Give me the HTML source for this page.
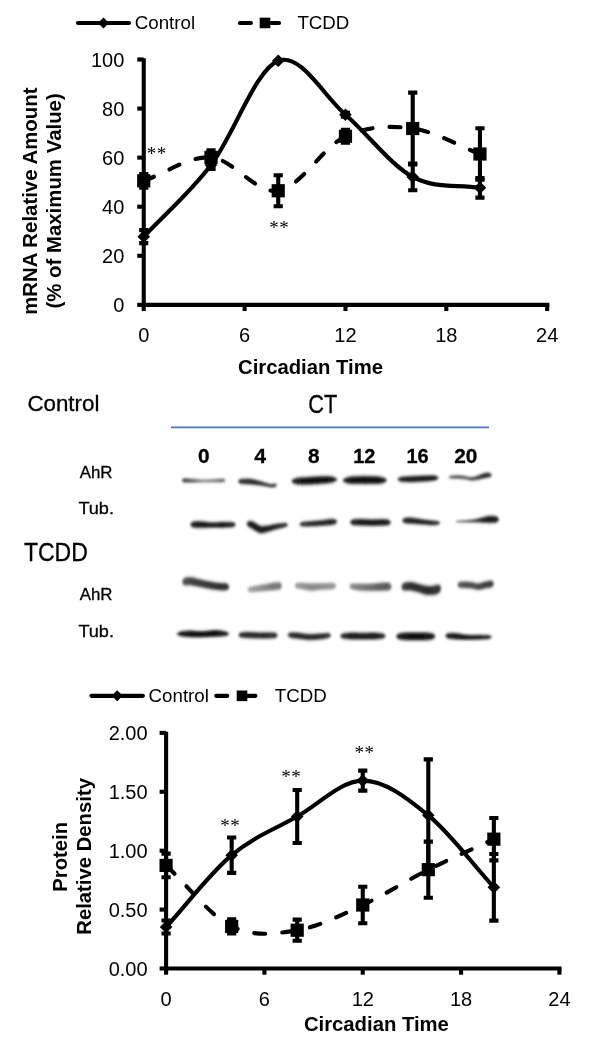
<!DOCTYPE html>
<html><head><meta charset="utf-8"><title>Figure</title>
<style>
html,body{margin:0;padding:0;background:#fff;}
svg{display:block;font-family:"Liberation Sans",sans-serif;fill:#000;}
.st{font-family:"Liberation Serif",serif;}
</style></head><body>
<svg width="592" height="1050" viewBox="0 0 592 1050">
<defs>
<filter id="bh" filterUnits="userSpaceOnUse" x="0" y="0" width="592" height="1050"><feGaussianBlur stdDeviation="1.5"/></filter>
<filter id="bc" filterUnits="userSpaceOnUse" x="0" y="0" width="592" height="1050"><feGaussianBlur stdDeviation="0.9"/></filter>
<linearGradient id="g0" gradientUnits="userSpaceOnUse" x1="182.2" y1="0" x2="225.1" y2="0"><stop offset="0.000" stop-color="rgb(70,70,70)"/><stop offset="0.182" stop-color="rgb(95,95,95)"/><stop offset="0.485" stop-color="rgb(140,140,140)"/><stop offset="0.741" stop-color="rgb(120,120,120)"/><stop offset="1.000" stop-color="rgb(85,85,85)"/></linearGradient>
<linearGradient id="g1" gradientUnits="userSpaceOnUse" x1="238.5" y1="0" x2="276.8" y2="0"><stop offset="0.000" stop-color="rgb(55,55,55)"/><stop offset="0.300" stop-color="rgb(40,40,40)"/><stop offset="0.561" stop-color="rgb(50,50,50)"/><stop offset="0.752" stop-color="rgb(60,60,60)"/><stop offset="0.875" stop-color="rgb(55,55,55)"/><stop offset="1.000" stop-color="rgb(60,60,60)"/></linearGradient>
<linearGradient id="g2" gradientUnits="userSpaceOnUse" x1="291.8" y1="0" x2="336.8" y2="0"><stop offset="0.000" stop-color="rgb(45,45,45)"/><stop offset="0.182" stop-color="rgb(18,18,18)"/><stop offset="0.493" stop-color="rgb(10,10,10)"/><stop offset="0.804" stop-color="rgb(16,16,16)"/><stop offset="1.000" stop-color="rgb(45,45,45)"/></linearGradient>
<linearGradient id="g3" gradientUnits="userSpaceOnUse" x1="343.2" y1="0" x2="386.4" y2="0"><stop offset="0.000" stop-color="rgb(45,45,45)"/><stop offset="0.204" stop-color="rgb(16,16,16)"/><stop offset="0.505" stop-color="rgb(8,8,8)"/><stop offset="0.806" stop-color="rgb(14,14,14)"/><stop offset="1.000" stop-color="rgb(45,45,45)"/></linearGradient>
<linearGradient id="g4" gradientUnits="userSpaceOnUse" x1="398.1" y1="0" x2="438.2" y2="0"><stop offset="0.000" stop-color="rgb(50,50,50)"/><stop offset="0.247" stop-color="rgb(28,28,28)"/><stop offset="0.596" stop-color="rgb(26,26,26)"/><stop offset="0.845" stop-color="rgb(30,30,30)"/><stop offset="1.000" stop-color="rgb(50,50,50)"/></linearGradient>
<linearGradient id="g5" gradientUnits="userSpaceOnUse" x1="448.8" y1="0" x2="491.4" y2="0"><stop offset="0.000" stop-color="rgb(110,110,110)"/><stop offset="0.216" stop-color="rgb(80,80,80)"/><stop offset="0.404" stop-color="rgb(85,85,85)"/><stop offset="0.533" stop-color="rgb(80,80,80)"/><stop offset="0.685" stop-color="rgb(60,60,60)"/><stop offset="0.850" stop-color="rgb(40,40,40)"/><stop offset="1.000" stop-color="rgb(55,55,55)"/></linearGradient>
<linearGradient id="g6" gradientUnits="userSpaceOnUse" x1="190.7" y1="0" x2="235.3" y2="0"><stop offset="0.000" stop-color="rgb(45,45,45)"/><stop offset="0.186" stop-color="rgb(28,28,28)"/><stop offset="0.478" stop-color="rgb(34,34,34)"/><stop offset="0.747" stop-color="rgb(30,30,30)"/><stop offset="1.000" stop-color="rgb(45,45,45)"/></linearGradient>
<linearGradient id="g7" gradientUnits="userSpaceOnUse" x1="247.0" y1="0" x2="287.6" y2="0"><stop offset="0.000" stop-color="rgb(45,45,45)"/><stop offset="0.123" stop-color="rgb(30,30,30)"/><stop offset="0.325" stop-color="rgb(28,28,28)"/><stop offset="0.493" stop-color="rgb(32,32,32)"/><stop offset="0.714" stop-color="rgb(38,38,38)"/><stop offset="1.000" stop-color="rgb(55,55,55)"/></linearGradient>
<linearGradient id="g8" gradientUnits="userSpaceOnUse" x1="299.9" y1="0" x2="336.8" y2="0"><stop offset="0.000" stop-color="rgb(60,60,60)"/><stop offset="0.274" stop-color="rgb(42,42,42)"/><stop offset="0.599" stop-color="rgb(38,38,38)"/><stop offset="0.843" stop-color="rgb(36,36,36)"/><stop offset="1.000" stop-color="rgb(55,55,55)"/></linearGradient>
<linearGradient id="g9" gradientUnits="userSpaceOnUse" x1="350.5" y1="0" x2="390.5" y2="0"><stop offset="0.000" stop-color="rgb(45,45,45)"/><stop offset="0.237" stop-color="rgb(28,28,28)"/><stop offset="0.537" stop-color="rgb(28,28,28)"/><stop offset="0.812" stop-color="rgb(30,30,30)"/><stop offset="1.000" stop-color="rgb(45,45,45)"/></linearGradient>
<linearGradient id="g10" gradientUnits="userSpaceOnUse" x1="402.6" y1="0" x2="439.7" y2="0"><stop offset="0.000" stop-color="rgb(50,50,50)"/><stop offset="0.199" stop-color="rgb(34,34,34)"/><stop offset="0.523" stop-color="rgb(36,36,36)"/><stop offset="0.792" stop-color="rgb(42,42,42)"/><stop offset="1.000" stop-color="rgb(60,60,60)"/></linearGradient>
<linearGradient id="g11" gradientUnits="userSpaceOnUse" x1="455.9" y1="0" x2="498.5" y2="0"><stop offset="0.000" stop-color="rgb(130,130,130)"/><stop offset="0.237" stop-color="rgb(100,100,100)"/><stop offset="0.448" stop-color="rgb(70,70,70)"/><stop offset="0.636" stop-color="rgb(38,38,38)"/><stop offset="0.824" stop-color="rgb(26,26,26)"/><stop offset="1.000" stop-color="rgb(40,40,40)"/></linearGradient>
<linearGradient id="g12" gradientUnits="userSpaceOnUse" x1="182.6" y1="0" x2="228.8" y2="0"><stop offset="0.000" stop-color="rgb(88,88,88)"/><stop offset="0.160" stop-color="rgb(68,68,68)"/><stop offset="0.377" stop-color="rgb(62,62,62)"/><stop offset="0.604" stop-color="rgb(54,54,54)"/><stop offset="0.810" stop-color="rgb(46,46,46)"/><stop offset="1.000" stop-color="rgb(56,56,56)"/></linearGradient>
<linearGradient id="g13" gradientUnits="userSpaceOnUse" x1="248.0" y1="0" x2="281.5" y2="0"><stop offset="0.000" stop-color="rgb(168,168,168)"/><stop offset="0.239" stop-color="rgb(150,150,150)"/><stop offset="0.507" stop-color="rgb(135,135,135)"/><stop offset="0.776" stop-color="rgb(120,120,120)"/><stop offset="1.000" stop-color="rgb(126,126,126)"/></linearGradient>
<linearGradient id="g14" gradientUnits="userSpaceOnUse" x1="295.2" y1="0" x2="335.7" y2="0"><stop offset="0.000" stop-color="rgb(160,160,160)"/><stop offset="0.168" stop-color="rgb(148,148,148)"/><stop offset="0.375" stop-color="rgb(136,136,136)"/><stop offset="0.612" stop-color="rgb(144,144,144)"/><stop offset="0.835" stop-color="rgb(146,146,146)"/><stop offset="1.000" stop-color="rgb(156,156,156)"/></linearGradient>
<linearGradient id="g15" gradientUnits="userSpaceOnUse" x1="349.9" y1="0" x2="391.1" y2="0"><stop offset="0.000" stop-color="rgb(146,146,146)"/><stop offset="0.197" stop-color="rgb(128,128,128)"/><stop offset="0.439" stop-color="rgb(115,115,115)"/><stop offset="0.682" stop-color="rgb(98,98,98)"/><stop offset="0.876" stop-color="rgb(90,90,90)"/><stop offset="1.000" stop-color="rgb(102,102,102)"/></linearGradient>
<linearGradient id="g16" gradientUnits="userSpaceOnUse" x1="401.8" y1="0" x2="440.7" y2="0"><stop offset="0.000" stop-color="rgb(68,68,68)"/><stop offset="0.211" stop-color="rgb(48,48,48)"/><stop offset="0.416" stop-color="rgb(46,46,46)"/><stop offset="0.635" stop-color="rgb(44,44,44)"/><stop offset="0.828" stop-color="rgb(48,48,48)"/><stop offset="1.000" stop-color="rgb(62,62,62)"/></linearGradient>
<linearGradient id="g17" gradientUnits="userSpaceOnUse" x1="457.9" y1="0" x2="493.4" y2="0"><stop offset="0.000" stop-color="rgb(98,98,98)"/><stop offset="0.200" stop-color="rgb(78,78,78)"/><stop offset="0.397" stop-color="rgb(80,80,80)"/><stop offset="0.572" stop-color="rgb(76,76,76)"/><stop offset="0.763" stop-color="rgb(62,62,62)"/><stop offset="1.000" stop-color="rgb(66,66,66)"/></linearGradient>
<linearGradient id="g18" gradientUnits="userSpaceOnUse" x1="177.1" y1="0" x2="228.8" y2="0"><stop offset="0.000" stop-color="rgb(45,45,45)"/><stop offset="0.211" stop-color="rgb(18,18,18)"/><stop offset="0.501" stop-color="rgb(14,14,14)"/><stop offset="0.752" stop-color="rgb(14,14,14)"/><stop offset="1.000" stop-color="rgb(45,45,45)"/></linearGradient>
<linearGradient id="g19" gradientUnits="userSpaceOnUse" x1="238.9" y1="0" x2="277.4" y2="0"><stop offset="0.000" stop-color="rgb(60,60,60)"/><stop offset="0.210" stop-color="rgb(42,42,42)"/><stop offset="0.496" stop-color="rgb(44,44,44)"/><stop offset="0.782" stop-color="rgb(44,44,44)"/><stop offset="1.000" stop-color="rgb(60,60,60)"/></linearGradient>
<linearGradient id="g20" gradientUnits="userSpaceOnUse" x1="288.1" y1="0" x2="330.7" y2="0"><stop offset="0.000" stop-color="rgb(55,55,55)"/><stop offset="0.209" stop-color="rgb(40,40,40)"/><stop offset="0.491" stop-color="rgb(42,42,42)"/><stop offset="0.772" stop-color="rgb(42,42,42)"/><stop offset="1.000" stop-color="rgb(58,58,58)"/></linearGradient>
<linearGradient id="g21" gradientUnits="userSpaceOnUse" x1="340.4" y1="0" x2="385.4" y2="0"><stop offset="0.000" stop-color="rgb(50,50,50)"/><stop offset="0.236" stop-color="rgb(28,28,28)"/><stop offset="0.502" stop-color="rgb(26,26,26)"/><stop offset="0.769" stop-color="rgb(28,28,28)"/><stop offset="1.000" stop-color="rgb(50,50,50)"/></linearGradient>
<linearGradient id="g22" gradientUnits="userSpaceOnUse" x1="396.5" y1="0" x2="435.0" y2="0"><stop offset="0.000" stop-color="rgb(40,40,40)"/><stop offset="0.247" stop-color="rgb(18,18,18)"/><stop offset="0.506" stop-color="rgb(16,16,16)"/><stop offset="0.766" stop-color="rgb(18,18,18)"/><stop offset="1.000" stop-color="rgb(40,40,40)"/></linearGradient>
<linearGradient id="g23" gradientUnits="userSpaceOnUse" x1="445.7" y1="0" x2="491.4" y2="0"><stop offset="0.000" stop-color="rgb(40,40,40)"/><stop offset="0.204" stop-color="rgb(24,24,24)"/><stop offset="0.488" stop-color="rgb(26,26,26)"/><stop offset="0.751" stop-color="rgb(28,28,28)"/><stop offset="1.000" stop-color="rgb(45,45,45)"/></linearGradient>
<filter id="soft" filterUnits="userSpaceOnUse" x="0" y="0" width="592" height="1050"><feGaussianBlur stdDeviation="0.45"/></filter>
</defs>
<rect width="592" height="1050" fill="#fff"/>
<g filter="url(#soft)">
<g id="chart1">
<path d="M143.75 230.14V243.14 M139.15 230.14H148.35 M139.15 243.14H148.35" stroke="#000" stroke-width="4.10" fill="none"/>
<path d="M210.99 161.07V168.93 M206.39 161.07H215.59 M206.39 168.93H215.59" stroke="#000" stroke-width="4.10" fill="none"/>
<path d="M278.23 60.80V60.80 M273.63 60.80H282.83 M273.63 60.80H282.83" stroke="#000" stroke-width="4.10" fill="none"/>
<path d="M345.48 112.74V116.67 M340.88 112.74H350.08 M340.88 116.67H350.08" stroke="#000" stroke-width="4.10" fill="none"/>
<path d="M412.72 163.50V190.30 M408.12 163.50H417.32 M408.12 190.30H417.32" stroke="#000" stroke-width="4.10" fill="none"/>
<path d="M479.96 178.00V197.63 M475.36 178.00H484.56 M475.36 197.63H484.56" stroke="#000" stroke-width="4.10" fill="none"/>
<path d="M143.75 173.93V187.67 M139.15 173.93H148.35 M139.15 187.67H148.35" stroke="#000" stroke-width="4.10" fill="none"/>
<path d="M210.99 150.40V164.39 M206.39 150.40H215.59 M206.39 164.39H215.59" stroke="#000" stroke-width="4.10" fill="none"/>
<path d="M278.23 175.31V206.22 M273.63 175.31H282.83 M273.63 206.22H282.83" stroke="#000" stroke-width="4.10" fill="none"/>
<path d="M345.48 129.92V142.67 M340.88 129.92H350.08 M340.88 142.67H350.08" stroke="#000" stroke-width="4.10" fill="none"/>
<path d="M412.72 92.62V164.41 M408.12 92.62H417.32 M408.12 164.41H417.32" stroke="#000" stroke-width="4.10" fill="none"/>
<path d="M479.96 128.25V179.77 M475.36 128.25H484.56 M475.36 179.77H484.56" stroke="#000" stroke-width="4.10" fill="none"/>
<path d="M143.75 58.30V306.90" stroke="#000" stroke-width="4.1" fill="none"/>
<path d="M141.70 304.85H549.30" stroke="#000" stroke-width="4.1" fill="none"/>
<path d="M137.25 304.85H143.75" stroke="#000" stroke-width="4.1" fill="none"/>
<text x="124.30" y="312.05" text-anchor="end" font-size="20">0</text>
<path d="M137.25 255.78H143.75" stroke="#000" stroke-width="4.1" fill="none"/>
<text x="124.30" y="262.98" text-anchor="end" font-size="20">20</text>
<path d="M137.25 206.71H143.75" stroke="#000" stroke-width="4.1" fill="none"/>
<text x="124.30" y="213.91" text-anchor="end" font-size="20">40</text>
<path d="M137.25 157.64H143.75" stroke="#000" stroke-width="4.1" fill="none"/>
<text x="124.30" y="164.84" text-anchor="end" font-size="20">60</text>
<path d="M137.25 108.57H143.75" stroke="#000" stroke-width="4.1" fill="none"/>
<text x="124.30" y="115.77" text-anchor="end" font-size="20">80</text>
<path d="M137.25 59.50H143.75" stroke="#000" stroke-width="4.1" fill="none"/>
<text x="124.30" y="66.70" text-anchor="end" font-size="20">100</text>
<path d="M143.75 304.85V311.05" stroke="#000" stroke-width="4.1" fill="none"/>
<text x="143.75" y="342.10" text-anchor="middle" font-size="20">0</text>
<path d="M244.61 304.85V311.05" stroke="#000" stroke-width="4.1" fill="none"/>
<text x="244.61" y="342.10" text-anchor="middle" font-size="20">6</text>
<path d="M345.48 304.85V311.05" stroke="#000" stroke-width="4.1" fill="none"/>
<text x="345.48" y="342.10" text-anchor="middle" font-size="20">12</text>
<path d="M446.34 304.85V311.05" stroke="#000" stroke-width="4.1" fill="none"/>
<text x="446.34" y="342.10" text-anchor="middle" font-size="20">18</text>
<path d="M547.20 304.85V311.05" stroke="#000" stroke-width="4.1" fill="none"/>
<text x="547.20" y="342.10" text-anchor="middle" font-size="20">24</text>
<path d="M143.75 236.64 C166.16 212.76 188.58 194.31 210.99 165.00 C233.41 135.69 255.82 69.18 278.23 60.80 C300.65 52.42 323.06 95.35 345.48 114.70 C367.89 134.05 390.30 164.71 412.72 176.90 C435.13 189.09 457.54 184.18 479.96 187.82" stroke="#000" stroke-width="4.15" fill="none" stroke-linecap="round"/>
<path d="M143.75 180.80 C166.16 173.00 188.58 155.73 210.99 157.39 C233.41 159.05 255.82 194.28 278.23 190.76 C300.65 187.25 323.06 146.67 345.48 136.29 C367.89 125.92 390.30 125.56 412.72 128.52 C435.13 131.47 457.54 145.51 479.96 154.01" stroke="#000" stroke-width="4.15" fill="none" stroke-linecap="round" stroke-dasharray="11 17.13" stroke-dashoffset="0"/>
<path d="M143.75 230.34 L150.05 236.64 L143.75 242.94 L137.45 236.64Z" fill="#000"/>
<path d="M210.99 158.70 L217.29 165.00 L210.99 171.30 L204.69 165.00Z" fill="#000"/>
<path d="M278.23 54.50 L284.53 60.80 L278.23 67.10 L271.93 60.80Z" fill="#000"/>
<path d="M345.48 108.40 L351.78 114.70 L345.48 121.00 L339.18 114.70Z" fill="#000"/>
<path d="M412.72 170.60 L419.02 176.90 L412.72 183.20 L406.42 176.90Z" fill="#000"/>
<path d="M479.96 181.52 L486.26 187.82 L479.96 194.12 L473.66 187.82Z" fill="#000"/>
<rect x="137.15" y="174.20" width="13.20" height="13.20" fill="#000"/>
<rect x="204.39" y="150.79" width="13.20" height="13.20" fill="#000"/>
<rect x="271.63" y="184.16" width="13.20" height="13.20" fill="#000"/>
<rect x="338.88" y="129.69" width="13.20" height="13.20" fill="#000"/>
<rect x="406.12" y="121.92" width="13.20" height="13.20" fill="#000"/>
<rect x="473.36" y="147.41" width="13.20" height="13.20" fill="#000"/>
<text x="156.70" y="160.20" text-anchor="middle" font-size="19" letter-spacing="0.5" class="st">**</text>
<text x="279.30" y="233.80" text-anchor="middle" font-size="19" letter-spacing="0.5" class="st">**</text>
<text x="310.50" y="374.00" text-anchor="middle" font-size="20.3" font-weight="bold">Circadian Time</text>
<path d="M78.00 22.95H129.00" stroke="#000" stroke-width="4.15" stroke-linecap="round" fill="none"/>
<path d="M103.50 17.45 L109.00 22.95 L103.50 28.45 L98.00 22.95Z" fill="#000"/>
<text x="134.80" y="29.40" font-size="18.7">Control</text>
<path d="M239.90 22.95H290.30" stroke="#000" stroke-width="4.15" stroke-linecap="round" fill="none" stroke-dasharray="11 17.13"/>
<rect x="259.70" y="17.65" width="10.60" height="10.60" fill="#000"/>
<text x="297.40" y="29.40" font-size="18.7">TCDD</text>
<text transform="translate(37.2 201.2) rotate(-90)" text-anchor="middle" font-size="20.4" font-weight="bold">mRNA Relative Amount</text>
<text transform="translate(60.5 200.9) rotate(-90)" text-anchor="middle" font-size="20.4" font-weight="bold">(% of Maximum Value)</text>
</g>
<g id="chart2">
<path d="M166.10 920.56V933.51 M161.50 920.56H170.70 M161.50 933.51H170.70" stroke="#000" stroke-width="4.10" fill="none"/>
<path d="M231.65 837.51V872.85 M227.05 837.51H236.25 M227.05 872.85H236.25" stroke="#000" stroke-width="4.10" fill="none"/>
<path d="M297.20 790.03V843.04 M292.60 790.03H301.80 M292.60 843.04H301.80" stroke="#000" stroke-width="4.10" fill="none"/>
<path d="M362.75 770.60V790.62 M358.15 770.60H367.35 M358.15 790.62H367.35" stroke="#000" stroke-width="4.10" fill="none"/>
<path d="M428.30 759.40V871.31 M423.70 759.40H432.90 M423.70 871.31H432.90" stroke="#000" stroke-width="4.10" fill="none"/>
<path d="M493.85 854.00V920.67 M489.25 854.00H498.45 M489.25 920.67H498.45" stroke="#000" stroke-width="4.10" fill="none"/>
<path d="M166.10 853.64V877.20 M161.50 853.64H170.70 M161.50 877.20H170.70" stroke="#000" stroke-width="4.10" fill="none"/>
<path d="M231.65 919.38V933.51 M227.05 919.38H236.25 M227.05 933.51H236.25" stroke="#000" stroke-width="4.10" fill="none"/>
<path d="M297.20 919.61V940.82 M292.60 919.61H301.80 M292.60 940.82H301.80" stroke="#000" stroke-width="4.10" fill="none"/>
<path d="M362.75 886.75V923.26 M358.15 886.75H367.35 M358.15 923.26H367.35" stroke="#000" stroke-width="4.10" fill="none"/>
<path d="M428.30 841.63V897.70 M423.70 841.63H432.90 M423.70 897.70H432.90" stroke="#000" stroke-width="4.10" fill="none"/>
<path d="M493.85 817.95V860.36 M489.25 817.95H498.45 M489.25 860.36H498.45" stroke="#000" stroke-width="4.10" fill="none"/>
<path d="M166.10 731.70V970.55" stroke="#000" stroke-width="4.1" fill="none"/>
<path d="M164.05 968.50H561.50" stroke="#000" stroke-width="4.1" fill="none"/>
<path d="M159.60 968.50H166.10" stroke="#000" stroke-width="4.1" fill="none"/>
<text x="147.60" y="975.70" text-anchor="end" font-size="20">0.00</text>
<path d="M159.60 909.60H166.10" stroke="#000" stroke-width="4.1" fill="none"/>
<text x="147.60" y="916.80" text-anchor="end" font-size="20">0.50</text>
<path d="M159.60 850.70H166.10" stroke="#000" stroke-width="4.1" fill="none"/>
<text x="147.60" y="857.90" text-anchor="end" font-size="20">1.00</text>
<path d="M159.60 791.80H166.10" stroke="#000" stroke-width="4.1" fill="none"/>
<text x="147.60" y="799.00" text-anchor="end" font-size="20">1.50</text>
<path d="M159.60 732.90H166.10" stroke="#000" stroke-width="4.1" fill="none"/>
<text x="147.60" y="740.10" text-anchor="end" font-size="20">2.00</text>
<path d="M166.10 968.50V974.70" stroke="#000" stroke-width="4.1" fill="none"/>
<text x="166.10" y="1006.20" text-anchor="middle" font-size="20">0</text>
<path d="M264.42 968.50V974.70" stroke="#000" stroke-width="4.1" fill="none"/>
<text x="264.42" y="1006.20" text-anchor="middle" font-size="20">6</text>
<path d="M362.75 968.50V974.70" stroke="#000" stroke-width="4.1" fill="none"/>
<text x="362.75" y="1006.20" text-anchor="middle" font-size="20">12</text>
<path d="M461.07 968.50V974.70" stroke="#000" stroke-width="4.1" fill="none"/>
<text x="461.07" y="1006.20" text-anchor="middle" font-size="20">18</text>
<path d="M559.40 968.50V974.70" stroke="#000" stroke-width="4.1" fill="none"/>
<text x="559.40" y="1006.20" text-anchor="middle" font-size="20">24</text>
<path d="M166.10 927.03 C187.95 903.08 209.80 873.59 231.65 855.18 C253.50 836.76 275.35 828.97 297.20 816.54 C319.05 804.11 340.90 780.81 362.75 780.61 C384.60 780.41 406.45 797.57 428.30 815.36 C450.15 833.15 472.00 863.34 493.85 887.34" stroke="#000" stroke-width="4.15" fill="none" stroke-linecap="round"/>
<path d="M166.10 865.42 C187.95 885.77 209.80 915.65 231.65 926.45 C253.50 937.24 275.35 933.79 297.20 930.22 C319.05 926.64 340.90 915.10 362.75 905.01 C384.60 894.91 406.45 880.64 428.30 869.67 C450.15 858.69 472.00 849.33 493.85 839.16" stroke="#000" stroke-width="4.15" fill="none" stroke-linecap="round" stroke-dasharray="11 17.13" stroke-dashoffset="-1"/>
<path d="M166.10 920.73 L172.40 927.03 L166.10 933.33 L159.80 927.03Z" fill="#000"/>
<path d="M231.65 848.88 L237.95 855.18 L231.65 861.48 L225.35 855.18Z" fill="#000"/>
<path d="M297.20 810.24 L303.50 816.54 L297.20 822.84 L290.90 816.54Z" fill="#000"/>
<path d="M362.75 774.31 L369.05 780.61 L362.75 786.91 L356.45 780.61Z" fill="#000"/>
<path d="M428.30 809.06 L434.60 815.36 L428.30 821.66 L422.00 815.36Z" fill="#000"/>
<path d="M493.85 881.04 L500.15 887.34 L493.85 893.64 L487.55 887.34Z" fill="#000"/>
<rect x="159.50" y="858.82" width="13.20" height="13.20" fill="#000"/>
<rect x="225.05" y="919.85" width="13.20" height="13.20" fill="#000"/>
<rect x="290.60" y="923.62" width="13.20" height="13.20" fill="#000"/>
<rect x="356.15" y="898.41" width="13.20" height="13.20" fill="#000"/>
<rect x="421.70" y="863.07" width="13.20" height="13.20" fill="#000"/>
<rect x="487.25" y="832.56" width="13.20" height="13.20" fill="#000"/>
<text x="230.30" y="832.00" text-anchor="middle" font-size="19" letter-spacing="0.5" class="st">**</text>
<text x="291.30" y="783.30" text-anchor="middle" font-size="19" letter-spacing="0.5" class="st">**</text>
<text x="364.50" y="759.00" text-anchor="middle" font-size="19" letter-spacing="0.5" class="st">**</text>
<text x="376.40" y="1030.80" text-anchor="middle" font-size="20.3" font-weight="bold">Circadian Time</text>
<path d="M91.50 695.80H142.90" stroke="#000" stroke-width="4.15" stroke-linecap="round" fill="none"/>
<path d="M117.20 690.30 L122.70 695.80 L117.20 701.30 L111.70 695.80Z" fill="#000"/>
<text x="148.60" y="702.10" font-size="18.7">Control</text>
<path d="M216.30 695.80H266.70" stroke="#000" stroke-width="4.15" stroke-linecap="round" fill="none" stroke-dasharray="11 17.13"/>
<rect x="236.70" y="690.50" width="10.60" height="10.60" fill="#000"/>
<text x="274.80" y="702.10" font-size="18.7">TCDD</text>
<text transform="translate(66.7 856.8) rotate(-90)" text-anchor="middle" font-size="20.3" font-weight="bold">Protein</text>
<text transform="translate(90.5 856.4) rotate(-90)" text-anchor="middle" font-size="20.3" font-weight="bold">Relative Density</text>
</g>
<g id="blot-labels" stroke="#000" stroke-width="0.3">
<text x="27.4" y="410.8" font-size="21.5" textLength="72" lengthAdjust="spacingAndGlyphs">Control</text>
<text x="308.2" y="412.7" font-size="25.8" textLength="29" lengthAdjust="spacingAndGlyphs">CT</text>
<path d="M171 427.3H489" stroke="#4876c4" stroke-width="1.75" fill="none"/>
<text x="203.70" y="462.9" font-size="20.5" font-weight="bold" text-anchor="middle" textLength="11.6" lengthAdjust="spacingAndGlyphs">0</text>
<text x="260.10" y="462.9" font-size="20.5" font-weight="bold" text-anchor="middle" textLength="11.8" lengthAdjust="spacingAndGlyphs">4</text>
<text x="313.90" y="462.9" font-size="20.5" font-weight="bold" text-anchor="middle" textLength="11.6" lengthAdjust="spacingAndGlyphs">8</text>
<text x="364.30" y="462.9" font-size="20.5" font-weight="bold" text-anchor="middle" textLength="22.2" lengthAdjust="spacingAndGlyphs">12</text>
<text x="417.50" y="462.9" font-size="20.5" font-weight="bold" text-anchor="middle" textLength="22.2" lengthAdjust="spacingAndGlyphs">16</text>
<text x="465.80" y="462.9" font-size="20.5" font-weight="bold" text-anchor="middle" textLength="23.2" lengthAdjust="spacingAndGlyphs">20</text>
<text x="79.7" y="477.7" font-size="17" textLength="32.8" lengthAdjust="spacingAndGlyphs">AhR</text>
<text x="78.4" y="514" font-size="17" textLength="35.6" lengthAdjust="spacingAndGlyphs">Tub.</text>
<text x="23.9" y="561.2" font-size="25.4" textLength="64" lengthAdjust="spacingAndGlyphs">TCDD</text>
<text x="79.7" y="600.1" font-size="17" textLength="32.8" lengthAdjust="spacingAndGlyphs">AhR</text>
<text x="78.4" y="636.6" font-size="17" textLength="35.6" lengthAdjust="spacingAndGlyphs">Tub.</text>
</g>
<g id="blot-bands">
<path d="M182.2 480.1 L183.4 478.3 L184.6 477.9 L185.8 477.9 L187.0 478.0 L188.2 478.1 L189.3 478.2 L190.5 478.3 L191.7 478.4 L192.9 478.5 L194.1 478.6 L195.3 478.7 L196.5 478.8 L197.7 478.9 L198.9 478.9 L200.1 479.0 L201.3 479.1 L202.5 479.1 L203.6 479.2 L204.8 479.2 L206.0 479.2 L207.2 479.2 L208.4 479.2 L209.6 479.1 L210.8 479.1 L212.0 479.0 L213.2 479.0 L214.4 478.9 L215.6 478.9 L216.8 478.8 L217.9 478.7 L219.1 478.7 L220.3 478.6 L221.5 478.5 L222.7 478.5 L223.9 478.8 L225.1 480.1 L225.1 480.5 L223.9 481.9 L222.7 482.3 L221.5 482.4 L220.3 482.4 L219.1 482.4 L217.9 482.4 L216.8 482.4 L215.6 482.4 L214.4 482.4 L213.2 482.5 L212.0 482.5 L210.8 482.5 L209.6 482.5 L208.4 482.5 L207.2 482.6 L206.0 482.6 L204.8 482.6 L203.6 482.6 L202.5 482.7 L201.3 482.7 L200.1 482.7 L198.9 482.7 L197.7 482.8 L196.5 482.8 L195.3 482.8 L194.1 482.9 L192.9 482.9 L191.7 482.9 L190.5 482.9 L189.3 483.0 L188.2 483.0 L187.0 483.0 L185.8 483.0 L184.6 482.9 L183.4 482.4 L182.2 480.5Z" fill="url(#g0)" filter="url(#bh)" opacity="0.55"/>
<path d="M182.2 480.2 L183.4 479.1 L184.6 478.9 L185.8 478.9 L187.0 479.0 L188.2 479.1 L189.3 479.2 L190.5 479.3 L191.7 479.4 L192.9 479.4 L194.1 479.5 L195.3 479.6 L196.5 479.7 L197.7 479.8 L198.9 479.8 L200.1 479.9 L201.3 480.0 L202.5 480.0 L203.6 480.0 L204.8 480.0 L206.0 480.0 L207.2 480.0 L208.4 480.0 L209.6 480.0 L210.8 479.9 L212.0 479.9 L213.2 479.8 L214.4 479.8 L215.6 479.7 L216.8 479.7 L217.9 479.6 L219.1 479.6 L220.3 479.5 L221.5 479.4 L222.7 479.4 L223.9 479.5 L225.1 480.2 L225.1 480.4 L223.9 481.2 L222.7 481.4 L221.5 481.5 L220.3 481.5 L219.1 481.5 L217.9 481.5 L216.8 481.5 L215.6 481.6 L214.4 481.6 L213.2 481.6 L212.0 481.6 L210.8 481.6 L209.6 481.7 L208.4 481.7 L207.2 481.7 L206.0 481.7 L204.8 481.8 L203.6 481.8 L202.5 481.8 L201.3 481.8 L200.1 481.8 L198.9 481.8 L197.7 481.9 L196.5 481.9 L195.3 481.9 L194.1 481.9 L192.9 481.9 L191.7 481.9 L190.5 481.9 L189.3 481.9 L188.2 481.9 L187.0 481.9 L185.8 481.9 L184.6 481.9 L183.4 481.6 L182.2 480.4Z" fill="url(#g0)" filter="url(#bc)"/>
<path d="M238.5 481.2 L239.6 479.2 L240.6 478.7 L241.7 478.4 L242.8 478.3 L243.8 478.3 L244.9 478.3 L245.9 478.2 L247.0 478.2 L248.1 478.2 L249.1 478.3 L250.2 478.4 L251.3 478.5 L252.3 478.7 L253.4 478.9 L254.5 479.2 L255.5 479.4 L256.6 479.7 L257.6 480.0 L258.7 480.2 L259.8 480.5 L260.8 480.8 L261.9 481.2 L263.0 481.5 L264.0 481.9 L265.1 482.2 L266.2 482.6 L267.2 482.8 L268.3 483.2 L269.4 483.5 L270.4 483.7 L271.5 483.8 L272.5 483.8 L273.6 483.6 L274.7 483.5 L275.7 483.5 L276.8 484.7 L276.8 485.1 L275.7 486.7 L274.7 487.3 L273.6 487.6 L272.5 487.7 L271.5 487.7 L270.4 487.6 L269.4 487.4 L268.3 487.2 L267.2 486.9 L266.2 486.8 L265.1 486.6 L264.0 486.5 L263.0 486.3 L261.9 486.1 L260.8 486.0 L259.8 485.8 L258.7 485.7 L257.6 485.6 L256.6 485.5 L255.5 485.4 L254.5 485.3 L253.4 485.2 L252.3 485.1 L251.3 485.0 L250.2 484.9 L249.1 484.8 L248.1 484.7 L247.0 484.7 L245.9 484.6 L244.9 484.6 L243.8 484.5 L242.8 484.5 L241.7 484.4 L240.6 484.2 L239.6 483.6 L238.5 481.6Z" fill="url(#g1)" filter="url(#bh)" opacity="0.55"/>
<path d="M238.5 481.3 L239.6 480.1 L240.6 479.8 L241.7 479.6 L242.8 479.5 L243.8 479.5 L244.9 479.5 L245.9 479.5 L247.0 479.5 L248.1 479.5 L249.1 479.5 L250.2 479.6 L251.3 479.8 L252.3 479.9 L253.4 480.1 L254.5 480.4 L255.5 480.6 L256.6 480.9 L257.6 481.1 L258.7 481.4 L259.8 481.6 L260.8 481.9 L261.9 482.2 L263.0 482.6 L264.0 482.9 L265.1 483.2 L266.2 483.5 L267.2 483.8 L268.3 484.1 L269.4 484.4 L270.4 484.6 L271.5 484.8 L272.5 484.7 L273.6 484.5 L274.7 484.3 L275.7 484.2 L276.8 484.8 L276.8 485.0 L275.7 486.0 L274.7 486.5 L273.6 486.7 L272.5 486.8 L271.5 486.8 L270.4 486.7 L269.4 486.5 L268.3 486.2 L267.2 486.0 L266.2 485.8 L265.1 485.7 L264.0 485.5 L263.0 485.3 L261.9 485.1 L260.8 484.9 L259.8 484.7 L258.7 484.6 L257.6 484.5 L256.6 484.3 L255.5 484.2 L254.5 484.1 L253.4 483.9 L252.3 483.8 L251.3 483.7 L250.2 483.6 L249.1 483.5 L248.1 483.5 L247.0 483.4 L245.9 483.4 L244.9 483.3 L243.8 483.3 L242.8 483.3 L241.7 483.2 L240.6 483.1 L239.6 482.7 L238.5 481.5Z" fill="url(#g1)" filter="url(#bc)"/>
<path d="M291.8 480.9 L293.1 479.0 L294.3 478.3 L295.6 477.7 L296.8 477.3 L298.1 477.1 L299.3 476.9 L300.6 476.8 L301.8 476.7 L303.1 476.6 L304.3 476.5 L305.6 476.5 L306.8 476.4 L308.1 476.3 L309.3 476.2 L310.6 476.1 L311.8 476.1 L313.1 476.0 L314.3 475.9 L315.6 475.9 L316.8 475.8 L318.1 475.7 L319.3 475.7 L320.6 475.6 L321.8 475.5 L323.1 475.5 L324.3 475.5 L325.6 475.4 L326.8 475.4 L328.1 475.5 L329.3 475.5 L330.6 475.7 L331.8 475.9 L333.1 476.2 L334.3 476.8 L335.6 477.5 L336.8 479.3 L336.8 479.7 L335.6 481.5 L334.3 482.3 L333.1 482.9 L331.8 483.3 L330.6 483.5 L329.3 483.7 L328.1 483.9 L326.8 484.1 L325.6 484.2 L324.3 484.3 L323.1 484.4 L321.8 484.5 L320.6 484.6 L319.3 484.7 L318.1 484.8 L316.8 484.9 L315.6 485.0 L314.3 485.0 L313.1 485.1 L311.8 485.2 L310.6 485.2 L309.3 485.3 L308.1 485.3 L306.8 485.3 L305.6 485.4 L304.3 485.4 L303.1 485.4 L301.8 485.4 L300.6 485.4 L299.3 485.3 L298.1 485.2 L296.8 485.0 L295.6 484.7 L294.3 484.1 L293.1 483.4 L291.8 481.5Z" fill="url(#g2)" filter="url(#bh)" opacity="0.55"/>
<path d="M291.8 481.1 L293.1 480.0 L294.3 479.6 L295.6 479.2 L296.8 479.0 L298.1 478.8 L299.3 478.7 L300.6 478.6 L301.8 478.6 L303.1 478.5 L304.3 478.4 L305.6 478.3 L306.8 478.3 L308.1 478.2 L309.3 478.1 L310.6 478.0 L311.8 478.0 L313.1 477.9 L314.3 477.8 L315.6 477.8 L316.8 477.7 L318.1 477.6 L319.3 477.6 L320.6 477.5 L321.8 477.4 L323.1 477.4 L324.3 477.3 L325.6 477.3 L326.8 477.3 L328.1 477.3 L329.3 477.3 L330.6 477.4 L331.8 477.5 L333.1 477.7 L334.3 478.0 L335.6 478.4 L336.8 479.4 L336.8 479.6 L335.6 480.6 L334.3 481.1 L333.1 481.4 L331.8 481.7 L330.6 481.8 L329.3 482.0 L328.1 482.1 L326.8 482.2 L325.6 482.3 L324.3 482.4 L323.1 482.5 L321.8 482.6 L320.6 482.7 L319.3 482.8 L318.1 482.9 L316.8 483.0 L315.6 483.1 L314.3 483.1 L313.1 483.2 L311.8 483.2 L310.6 483.3 L309.3 483.4 L308.1 483.4 L306.8 483.4 L305.6 483.5 L304.3 483.5 L303.1 483.5 L301.8 483.5 L300.6 483.5 L299.3 483.5 L298.1 483.5 L296.8 483.4 L295.6 483.1 L294.3 482.8 L293.1 482.4 L291.8 481.3Z" fill="url(#g2)" filter="url(#bc)"/>
<path d="M343.2 480.0 L344.4 478.2 L345.6 477.4 L346.8 476.8 L348.0 476.4 L349.2 476.1 L350.4 475.9 L351.6 475.8 L352.8 475.7 L354.0 475.6 L355.2 475.5 L356.4 475.5 L357.6 475.4 L358.8 475.4 L360.0 475.3 L361.2 475.3 L362.4 475.3 L363.6 475.3 L364.8 475.3 L366.0 475.3 L367.2 475.3 L368.4 475.3 L369.6 475.3 L370.8 475.4 L372.0 475.4 L373.2 475.5 L374.4 475.5 L375.6 475.6 L376.8 475.7 L378.0 475.8 L379.2 475.9 L380.4 476.1 L381.6 476.3 L382.8 476.8 L384.0 477.3 L385.2 478.1 L386.4 480.0 L386.4 480.6 L385.2 482.4 L384.0 483.2 L382.8 483.8 L381.6 484.2 L380.4 484.4 L379.2 484.5 L378.0 484.6 L376.8 484.7 L375.6 484.7 L374.4 484.8 L373.2 484.8 L372.0 484.8 L370.8 484.8 L369.6 484.8 L368.4 484.8 L367.2 484.8 L366.0 484.8 L364.8 484.8 L363.6 484.8 L362.4 484.8 L361.2 484.8 L360.0 484.8 L358.8 484.8 L357.6 484.8 L356.4 484.8 L355.2 484.8 L354.0 484.7 L352.8 484.7 L351.6 484.6 L350.4 484.5 L349.2 484.4 L348.0 484.1 L346.8 483.7 L345.6 483.2 L344.4 482.4 L343.2 480.6Z" fill="url(#g3)" filter="url(#bh)" opacity="0.55"/>
<path d="M343.2 480.2 L344.4 479.1 L345.6 478.7 L346.8 478.3 L348.0 478.1 L349.2 477.9 L350.4 477.8 L351.6 477.7 L352.8 477.6 L354.0 477.5 L355.2 477.5 L356.4 477.4 L357.6 477.4 L358.8 477.3 L360.0 477.3 L361.2 477.3 L362.4 477.2 L363.6 477.2 L364.8 477.2 L366.0 477.2 L367.2 477.2 L368.4 477.3 L369.6 477.3 L370.8 477.3 L372.0 477.4 L373.2 477.4 L374.4 477.5 L375.6 477.5 L376.8 477.6 L378.0 477.6 L379.2 477.7 L380.4 477.9 L381.6 478.0 L382.8 478.3 L384.0 478.6 L385.2 479.1 L386.4 480.2 L386.4 480.4 L385.2 481.5 L384.0 481.9 L382.8 482.2 L381.6 482.5 L380.4 482.6 L379.2 482.7 L378.0 482.8 L376.8 482.8 L375.6 482.8 L374.4 482.8 L373.2 482.8 L372.0 482.8 L370.8 482.8 L369.6 482.8 L368.4 482.8 L367.2 482.8 L366.0 482.8 L364.8 482.8 L363.6 482.8 L362.4 482.8 L361.2 482.8 L360.0 482.8 L358.8 482.8 L357.6 482.8 L356.4 482.8 L355.2 482.8 L354.0 482.8 L352.8 482.8 L351.6 482.8 L350.4 482.7 L349.2 482.6 L348.0 482.5 L346.8 482.2 L345.6 481.9 L344.4 481.5 L343.2 480.4Z" fill="url(#g3)" filter="url(#bc)"/>
<path d="M398.1 479.1 L399.2 477.4 L400.3 476.8 L401.4 476.4 L402.6 476.1 L403.7 476.0 L404.8 476.0 L405.9 475.9 L407.0 475.8 L408.1 475.7 L409.2 475.7 L410.4 475.7 L411.5 475.6 L412.6 475.6 L413.7 475.5 L414.8 475.5 L415.9 475.4 L417.0 475.4 L418.1 475.4 L419.3 475.3 L420.4 475.3 L421.5 475.3 L422.6 475.2 L423.7 475.2 L424.8 475.1 L425.9 475.1 L427.1 475.0 L428.2 474.9 L429.3 474.9 L430.4 474.9 L431.5 474.9 L432.6 474.9 L433.7 474.9 L434.9 475.1 L436.0 475.5 L437.1 476.0 L438.2 477.6 L438.2 478.0 L437.1 479.7 L436.0 480.3 L434.9 480.8 L433.7 481.1 L432.6 481.3 L431.5 481.4 L430.4 481.5 L429.3 481.6 L428.2 481.7 L427.1 481.8 L425.9 481.9 L424.8 481.9 L423.7 482.0 L422.6 482.1 L421.5 482.2 L420.4 482.2 L419.3 482.3 L418.1 482.3 L417.0 482.4 L415.9 482.4 L414.8 482.5 L413.7 482.5 L412.6 482.6 L411.5 482.6 L410.4 482.6 L409.2 482.6 L408.1 482.6 L407.0 482.6 L405.9 482.6 L404.8 482.6 L403.7 482.5 L402.6 482.4 L401.4 482.2 L400.3 481.8 L399.2 481.2 L398.1 479.5Z" fill="url(#g4)" filter="url(#bh)" opacity="0.55"/>
<path d="M398.1 479.2 L399.2 478.1 L400.3 477.8 L401.4 477.5 L402.6 477.4 L403.7 477.3 L404.8 477.2 L405.9 477.2 L407.0 477.1 L408.1 477.0 L409.2 477.0 L410.4 477.0 L411.5 476.9 L412.6 476.9 L413.7 476.8 L414.8 476.8 L415.9 476.8 L417.0 476.7 L418.1 476.7 L419.3 476.6 L420.4 476.6 L421.5 476.6 L422.6 476.5 L423.7 476.5 L424.8 476.4 L425.9 476.3 L427.1 476.3 L428.2 476.2 L429.3 476.2 L430.4 476.1 L431.5 476.1 L432.6 476.1 L433.7 476.1 L434.9 476.2 L436.0 476.4 L437.1 476.8 L438.2 477.7 L438.2 477.9 L437.1 478.9 L436.0 479.4 L434.9 479.7 L433.7 479.9 L432.6 480.0 L431.5 480.1 L430.4 480.2 L429.3 480.3 L428.2 480.4 L427.1 480.5 L425.9 480.6 L424.8 480.7 L423.7 480.7 L422.6 480.8 L421.5 480.9 L420.4 480.9 L419.3 481.0 L418.1 481.0 L417.0 481.1 L415.9 481.1 L414.8 481.2 L413.7 481.2 L412.6 481.3 L411.5 481.3 L410.4 481.3 L409.2 481.3 L408.1 481.3 L407.0 481.3 L405.9 481.3 L404.8 481.3 L403.7 481.3 L402.6 481.2 L401.4 481.1 L400.3 480.8 L399.2 480.4 L398.1 479.4Z" fill="url(#g4)" filter="url(#bc)"/>
<path d="M448.8 477.2 L450.0 475.8 L451.2 475.4 L452.4 475.3 L453.5 475.2 L454.7 475.1 L455.9 475.0 L457.1 475.0 L458.3 475.0 L459.4 475.1 L460.6 475.2 L461.8 475.4 L463.0 475.6 L464.2 475.7 L465.4 475.9 L466.6 476.1 L467.7 476.4 L468.9 476.7 L470.1 476.9 L471.3 476.9 L472.5 476.8 L473.6 476.6 L474.8 476.2 L476.0 475.9 L477.2 475.5 L478.4 475.1 L479.6 474.6 L480.8 474.1 L481.9 473.6 L483.1 473.2 L484.3 472.8 L485.5 472.5 L486.7 472.4 L487.8 472.3 L489.0 472.4 L490.2 472.8 L491.4 474.8 L491.4 475.2 L490.2 477.4 L489.0 477.9 L487.8 478.0 L486.7 478.1 L485.5 478.3 L484.3 478.5 L483.1 478.8 L481.9 479.1 L480.8 479.4 L479.6 479.7 L478.4 479.9 L477.2 480.2 L476.0 480.4 L474.8 480.6 L473.6 480.8 L472.5 480.9 L471.3 480.9 L470.1 480.7 L468.9 480.4 L467.7 480.0 L466.6 479.7 L465.4 479.5 L464.2 479.4 L463.0 479.3 L461.8 479.2 L460.6 479.1 L459.4 479.1 L458.3 479.0 L457.1 479.0 L455.9 479.0 L454.7 479.0 L453.5 479.0 L452.4 479.0 L451.2 479.0 L450.0 478.8 L448.8 477.4Z" fill="url(#g5)" filter="url(#bh)" opacity="0.55"/>
<path d="M448.8 477.2 L450.0 476.5 L451.2 476.3 L452.4 476.2 L453.5 476.1 L454.7 476.0 L455.9 475.9 L457.1 475.9 L458.3 475.9 L459.4 476.0 L460.6 476.1 L461.8 476.3 L463.0 476.5 L464.2 476.6 L465.4 476.8 L466.6 477.0 L467.7 477.3 L468.9 477.5 L470.1 477.8 L471.3 477.8 L472.5 477.7 L473.6 477.5 L474.8 477.2 L476.0 476.9 L477.2 476.5 L478.4 476.1 L479.6 475.7 L480.8 475.2 L481.9 474.7 L483.1 474.3 L484.3 473.9 L485.5 473.7 L486.7 473.5 L487.8 473.5 L489.0 473.5 L490.2 473.7 L491.4 474.9 L491.4 475.1 L490.2 476.4 L489.0 476.7 L487.8 476.8 L486.7 477.0 L485.5 477.2 L484.3 477.4 L483.1 477.7 L481.9 478.0 L480.8 478.3 L479.6 478.6 L478.4 478.9 L477.2 479.1 L476.0 479.4 L474.8 479.6 L473.6 479.8 L472.5 480.0 L471.3 480.0 L470.1 479.8 L468.9 479.5 L467.7 479.2 L466.6 478.8 L465.4 478.7 L464.2 478.5 L463.0 478.4 L461.8 478.3 L460.6 478.2 L459.4 478.1 L458.3 478.1 L457.1 478.1 L455.9 478.0 L454.7 478.0 L453.5 478.1 L452.4 478.1 L451.2 478.1 L450.0 478.0 L448.8 477.4Z" fill="url(#g5)" filter="url(#bc)"/>
<path d="M190.7 524.3 L191.9 521.8 L193.2 521.1 L194.4 520.8 L195.7 520.7 L196.9 520.7 L198.1 520.6 L199.4 520.7 L200.6 520.7 L201.8 520.8 L203.1 521.0 L204.3 521.1 L205.6 521.3 L206.8 521.4 L208.0 521.5 L209.3 521.7 L210.5 521.8 L211.8 521.8 L213.0 521.9 L214.2 521.9 L215.5 521.8 L216.7 521.8 L218.0 521.7 L219.2 521.6 L220.4 521.6 L221.7 521.5 L222.9 521.5 L224.2 521.4 L225.4 521.4 L226.6 521.5 L227.9 521.5 L229.1 521.5 L230.3 521.5 L231.6 521.6 L232.8 521.7 L234.1 522.3 L235.3 524.4 L235.3 524.8 L234.1 527.0 L232.8 527.6 L231.6 527.8 L230.3 527.8 L229.1 527.9 L227.9 528.0 L226.6 528.1 L225.4 528.1 L224.2 528.1 L222.9 528.2 L221.7 528.2 L220.4 528.2 L219.2 528.2 L218.0 528.2 L216.7 528.1 L215.5 528.1 L214.2 528.1 L213.0 528.1 L211.8 528.2 L210.5 528.2 L209.3 528.2 L208.0 528.3 L206.8 528.3 L205.6 528.4 L204.3 528.4 L203.1 528.5 L201.8 528.5 L200.6 528.5 L199.4 528.6 L198.1 528.5 L196.9 528.5 L195.7 528.4 L194.4 528.3 L193.2 528.1 L191.9 527.4 L190.7 524.9Z" fill="url(#g6)" filter="url(#bh)" opacity="0.55"/>
<path d="M190.7 524.4 L191.9 522.9 L193.2 522.4 L194.4 522.2 L195.7 522.1 L196.9 522.1 L198.1 522.1 L199.4 522.1 L200.6 522.2 L201.8 522.2 L203.1 522.3 L204.3 522.5 L205.6 522.6 L206.8 522.7 L208.0 522.8 L209.3 522.9 L210.5 523.0 L211.8 523.1 L213.0 523.1 L214.2 523.1 L215.5 523.1 L216.7 523.0 L218.0 523.0 L219.2 522.9 L220.4 522.8 L221.7 522.8 L222.9 522.7 L224.2 522.7 L225.4 522.7 L226.6 522.7 L227.9 522.7 L229.1 522.7 L230.3 522.8 L231.6 522.8 L232.8 522.9 L234.1 523.2 L235.3 524.5 L235.3 524.7 L234.1 526.0 L232.8 526.4 L231.6 526.6 L230.3 526.6 L229.1 526.7 L227.9 526.7 L226.6 526.8 L225.4 526.8 L224.2 526.9 L222.9 526.9 L221.7 526.9 L220.4 526.9 L219.2 526.9 L218.0 526.9 L216.7 526.9 L215.5 526.9 L214.2 526.9 L213.0 526.9 L211.8 526.9 L210.5 526.9 L209.3 527.0 L208.0 527.0 L206.8 527.0 L205.6 527.0 L204.3 527.1 L203.1 527.1 L201.8 527.1 L200.6 527.1 L199.4 527.1 L198.1 527.1 L196.9 527.1 L195.7 527.0 L194.4 526.9 L193.2 526.8 L191.9 526.3 L190.7 524.8Z" fill="url(#g6)" filter="url(#bc)"/>
<path d="M247.0 523.3 L248.1 521.1 L249.3 520.4 L250.4 520.2 L251.5 520.5 L252.6 520.9 L253.8 521.4 L254.9 522.1 L256.0 522.8 L257.1 523.6 L258.3 524.2 L259.4 524.8 L260.5 525.1 L261.7 525.4 L262.8 525.4 L263.9 525.4 L265.0 525.3 L266.2 525.2 L267.3 525.0 L268.4 524.9 L269.6 524.7 L270.7 524.5 L271.8 524.3 L272.9 524.0 L274.1 523.8 L275.2 523.6 L276.3 523.4 L277.5 523.3 L278.6 523.1 L279.7 523.0 L280.8 522.9 L282.0 522.8 L283.1 522.6 L284.2 522.5 L285.3 522.6 L286.5 522.9 L287.6 524.4 L287.6 524.8 L286.5 526.7 L285.3 527.4 L284.2 527.8 L283.1 528.1 L282.0 528.4 L280.8 528.6 L279.7 528.9 L278.6 529.1 L277.5 529.4 L276.3 529.7 L275.2 530.0 L274.1 530.4 L272.9 530.8 L271.8 531.1 L270.7 531.5 L269.6 531.9 L268.4 532.2 L267.3 532.5 L266.2 532.8 L265.0 533.2 L263.9 533.5 L262.8 533.8 L261.7 533.9 L260.5 533.8 L259.4 533.5 L258.3 533.1 L257.1 532.4 L256.0 531.7 L254.9 531.0 L253.8 530.3 L252.6 529.6 L251.5 529.0 L250.4 528.4 L249.3 527.7 L248.1 526.6 L247.0 523.9Z" fill="url(#g7)" filter="url(#bh)" opacity="0.55"/>
<path d="M247.0 523.4 L248.1 522.2 L249.3 521.8 L250.4 521.7 L251.5 522.0 L252.6 522.4 L253.8 523.0 L254.9 523.6 L256.0 524.4 L257.1 525.1 L258.3 525.8 L259.4 526.3 L260.5 526.7 L261.7 526.9 L262.8 526.9 L263.9 526.9 L265.0 526.7 L266.2 526.6 L267.3 526.4 L268.4 526.2 L269.6 526.0 L270.7 525.8 L271.8 525.6 L272.9 525.3 L274.1 525.1 L275.2 524.8 L276.3 524.6 L277.5 524.5 L278.6 524.3 L279.7 524.2 L280.8 524.0 L282.0 523.9 L283.1 523.8 L284.2 523.6 L285.3 523.6 L286.5 523.7 L287.6 524.5 L287.6 524.7 L286.5 525.9 L285.3 526.4 L284.2 526.7 L283.1 527.0 L282.0 527.2 L280.8 527.5 L279.7 527.7 L278.6 528.0 L277.5 528.2 L276.3 528.5 L275.2 528.8 L274.1 529.1 L272.9 529.5 L271.8 529.8 L270.7 530.2 L269.6 530.5 L268.4 530.8 L267.3 531.1 L266.2 531.4 L265.0 531.7 L263.9 532.1 L262.8 532.3 L261.7 532.4 L260.5 532.3 L259.4 532.0 L258.3 531.5 L257.1 530.9 L256.0 530.2 L254.9 529.4 L253.8 528.7 L252.6 528.1 L251.5 527.5 L250.4 527.0 L249.3 526.4 L248.1 525.6 L247.0 523.8Z" fill="url(#g7)" filter="url(#bc)"/>
<path d="M299.9 524.1 L300.9 522.3 L301.9 521.8 L303.0 521.5 L304.0 521.3 L305.0 521.2 L306.0 521.1 L307.1 521.0 L308.1 520.9 L309.1 520.8 L310.1 520.7 L311.2 520.7 L312.2 520.6 L313.2 520.5 L314.2 520.4 L315.3 520.3 L316.3 520.2 L317.3 520.2 L318.4 520.1 L319.4 520.0 L320.4 519.9 L321.4 519.8 L322.4 519.7 L323.5 519.5 L324.5 519.4 L325.5 519.2 L326.6 519.0 L327.6 518.8 L328.6 518.7 L329.6 518.6 L330.6 518.5 L331.7 518.4 L332.7 518.4 L333.7 518.5 L334.8 518.8 L335.8 519.4 L336.8 521.4 L336.8 521.8 L335.8 523.9 L334.8 524.7 L333.7 525.1 L332.7 525.3 L331.7 525.4 L330.6 525.6 L329.6 525.7 L328.6 525.8 L327.6 525.8 L326.6 525.9 L325.5 526.0 L324.5 526.1 L323.5 526.1 L322.4 526.2 L321.4 526.3 L320.4 526.3 L319.4 526.4 L318.4 526.5 L317.3 526.5 L316.3 526.6 L315.3 526.6 L314.2 526.7 L313.2 526.7 L312.2 526.8 L311.2 526.8 L310.1 526.8 L309.1 526.9 L308.1 526.9 L307.1 526.9 L306.0 526.9 L305.0 526.9 L304.0 526.9 L303.0 526.9 L301.9 526.6 L300.9 526.2 L299.9 524.5Z" fill="url(#g8)" filter="url(#bh)" opacity="0.55"/>
<path d="M299.9 524.2 L300.9 523.1 L301.9 522.8 L303.0 522.6 L304.0 522.5 L305.0 522.4 L306.0 522.3 L307.1 522.2 L308.1 522.1 L309.1 522.0 L310.1 521.9 L311.2 521.9 L312.2 521.8 L313.2 521.7 L314.2 521.6 L315.3 521.6 L316.3 521.5 L317.3 521.4 L318.4 521.3 L319.4 521.2 L320.4 521.1 L321.4 521.1 L322.4 520.9 L323.5 520.8 L324.5 520.6 L325.5 520.5 L326.6 520.3 L327.6 520.2 L328.6 520.0 L329.6 519.9 L330.6 519.8 L331.7 519.7 L332.7 519.7 L333.7 519.7 L334.8 519.9 L335.8 520.3 L336.8 521.5 L336.8 521.7 L335.8 523.0 L334.8 523.5 L333.7 523.8 L332.7 524.0 L331.7 524.1 L330.6 524.3 L329.6 524.3 L328.6 524.4 L327.6 524.5 L326.6 524.6 L325.5 524.7 L324.5 524.8 L323.5 524.9 L322.4 525.0 L321.4 525.0 L320.4 525.1 L319.4 525.2 L318.4 525.2 L317.3 525.3 L316.3 525.3 L315.3 525.4 L314.2 525.5 L313.2 525.5 L312.2 525.6 L311.2 525.6 L310.1 525.6 L309.1 525.7 L308.1 525.7 L307.1 525.7 L306.0 525.7 L305.0 525.7 L304.0 525.8 L303.0 525.7 L301.9 525.6 L300.9 525.4 L299.9 524.4Z" fill="url(#g8)" filter="url(#bc)"/>
<path d="M350.5 521.9 L351.6 519.7 L352.7 519.0 L353.8 518.7 L354.9 518.6 L356.1 518.5 L357.2 518.4 L358.3 518.4 L359.4 518.4 L360.5 518.4 L361.6 518.4 L362.7 518.4 L363.8 518.5 L364.9 518.5 L366.1 518.6 L367.2 518.6 L368.3 518.7 L369.4 518.8 L370.5 518.8 L371.6 518.8 L372.7 518.9 L373.8 518.8 L374.9 518.8 L376.1 518.8 L377.2 518.8 L378.3 518.7 L379.4 518.7 L380.5 518.7 L381.6 518.6 L382.7 518.6 L383.8 518.7 L384.9 518.7 L386.1 518.8 L387.2 518.9 L388.3 519.2 L389.4 519.9 L390.5 522.1 L390.5 522.7 L389.4 524.9 L388.3 525.6 L387.2 525.9 L386.1 526.0 L384.9 526.0 L383.8 526.1 L382.7 526.2 L381.6 526.2 L380.5 526.2 L379.4 526.3 L378.3 526.3 L377.2 526.3 L376.1 526.3 L374.9 526.3 L373.8 526.3 L372.7 526.4 L371.6 526.3 L370.5 526.3 L369.4 526.3 L368.3 526.3 L367.2 526.3 L366.1 526.3 L364.9 526.2 L363.8 526.2 L362.7 526.1 L361.6 526.1 L360.5 526.1 L359.4 526.0 L358.3 526.0 L357.2 525.9 L356.1 525.8 L354.9 525.7 L353.8 525.7 L352.7 525.4 L351.6 524.7 L350.5 522.5Z" fill="url(#g9)" filter="url(#bh)" opacity="0.55"/>
<path d="M350.5 522.0 L351.6 520.7 L352.7 520.2 L353.8 520.0 L354.9 519.9 L356.1 519.9 L357.2 519.8 L358.3 519.8 L359.4 519.8 L360.5 519.8 L361.6 519.8 L362.7 519.8 L363.8 519.9 L364.9 519.9 L366.1 520.0 L367.2 520.0 L368.3 520.1 L369.4 520.2 L370.5 520.2 L371.6 520.2 L372.7 520.2 L373.8 520.2 L374.9 520.2 L376.1 520.2 L377.2 520.1 L378.3 520.1 L379.4 520.1 L380.5 520.1 L381.6 520.0 L382.7 520.0 L383.8 520.0 L384.9 520.1 L386.1 520.1 L387.2 520.2 L388.3 520.4 L389.4 520.9 L390.5 522.2 L390.5 522.6 L389.4 523.9 L388.3 524.4 L387.2 524.6 L386.1 524.6 L384.9 524.7 L383.8 524.7 L382.7 524.8 L381.6 524.8 L380.5 524.8 L379.4 524.9 L378.3 524.9 L377.2 524.9 L376.1 524.9 L374.9 525.0 L373.8 525.0 L372.7 525.0 L371.6 525.0 L370.5 525.0 L369.4 524.9 L368.3 524.9 L367.2 524.9 L366.1 524.8 L364.9 524.8 L363.8 524.8 L362.7 524.7 L361.6 524.7 L360.5 524.7 L359.4 524.6 L358.3 524.6 L357.2 524.5 L356.1 524.5 L354.9 524.4 L353.8 524.4 L352.7 524.2 L351.6 523.7 L350.5 522.4Z" fill="url(#g9)" filter="url(#bc)"/>
<path d="M402.6 520.4 L403.6 518.3 L404.7 517.6 L405.7 517.3 L406.7 517.1 L407.8 517.0 L408.8 517.0 L409.8 517.0 L410.8 517.1 L411.9 517.2 L412.9 517.3 L413.9 517.5 L415.0 517.6 L416.0 517.8 L417.0 518.0 L418.1 518.1 L419.1 518.3 L420.1 518.5 L421.1 518.6 L422.2 518.8 L423.2 518.9 L424.2 519.1 L425.3 519.2 L426.3 519.4 L427.3 519.5 L428.4 519.6 L429.4 519.8 L430.4 519.9 L431.5 520.0 L432.5 520.1 L433.5 520.2 L434.5 520.3 L435.6 520.4 L436.6 520.5 L437.6 520.7 L438.7 521.2 L439.7 522.7 L439.7 523.1 L438.7 524.6 L437.6 525.1 L436.6 525.3 L435.6 525.4 L434.5 525.5 L433.5 525.5 L432.5 525.6 L431.5 525.5 L430.4 525.5 L429.4 525.4 L428.4 525.4 L427.3 525.3 L426.3 525.2 L425.3 525.1 L424.2 525.0 L423.2 524.9 L422.2 524.9 L421.1 524.8 L420.1 524.7 L419.1 524.7 L418.1 524.6 L417.0 524.5 L416.0 524.5 L415.0 524.4 L413.9 524.4 L412.9 524.3 L411.9 524.2 L410.8 524.2 L409.8 524.1 L408.8 524.1 L407.8 524.0 L406.7 523.9 L405.7 523.8 L404.7 523.5 L403.6 522.9 L402.6 520.8Z" fill="url(#g10)" filter="url(#bh)" opacity="0.55"/>
<path d="M402.6 520.5 L403.6 519.2 L404.7 518.8 L405.7 518.5 L406.7 518.4 L407.8 518.3 L408.8 518.3 L409.8 518.4 L410.8 518.4 L411.9 518.5 L412.9 518.6 L413.9 518.8 L415.0 518.9 L416.0 519.1 L417.0 519.2 L418.1 519.4 L419.1 519.6 L420.1 519.7 L421.1 519.8 L422.2 520.0 L423.2 520.1 L424.2 520.3 L425.3 520.4 L426.3 520.5 L427.3 520.7 L428.4 520.8 L429.4 520.9 L430.4 521.0 L431.5 521.1 L432.5 521.2 L433.5 521.3 L434.5 521.4 L435.6 521.4 L436.6 521.5 L437.6 521.6 L438.7 521.9 L439.7 522.8 L439.7 523.0 L438.7 523.9 L437.6 524.1 L436.6 524.3 L435.6 524.4 L434.5 524.4 L433.5 524.4 L432.5 524.4 L431.5 524.4 L430.4 524.4 L429.4 524.3 L428.4 524.2 L427.3 524.1 L426.3 524.0 L425.3 523.9 L424.2 523.8 L423.2 523.8 L422.2 523.7 L421.1 523.6 L420.1 523.5 L419.1 523.4 L418.1 523.4 L417.0 523.3 L416.0 523.2 L415.0 523.1 L413.9 523.1 L412.9 523.0 L411.9 522.9 L410.8 522.9 L409.8 522.8 L408.8 522.7 L407.8 522.7 L406.7 522.6 L405.7 522.6 L404.7 522.4 L403.6 522.0 L402.6 520.7Z" fill="url(#g10)" filter="url(#bc)"/>
<path d="M455.9 521.5 L457.1 520.5 L458.3 520.2 L459.4 520.2 L460.6 520.1 L461.8 520.1 L463.0 520.1 L464.2 520.0 L465.4 519.9 L466.5 519.9 L467.7 519.8 L468.9 519.7 L470.1 519.6 L471.3 519.4 L472.5 519.3 L473.6 519.1 L474.8 518.9 L476.0 518.7 L477.2 518.4 L478.4 518.0 L479.6 517.7 L480.8 517.3 L481.9 517.0 L483.1 516.7 L484.3 516.4 L485.5 516.1 L486.7 515.8 L487.9 515.6 L489.0 515.4 L490.2 515.3 L491.4 515.2 L492.6 515.2 L493.8 515.3 L494.9 515.5 L496.1 515.7 L497.3 516.5 L498.5 519.2 L498.5 519.8 L497.3 522.4 L496.1 523.1 L494.9 523.2 L493.8 523.3 L492.6 523.4 L491.4 523.4 L490.2 523.4 L489.0 523.4 L487.9 523.3 L486.7 523.3 L485.5 523.2 L484.3 523.2 L483.1 523.1 L481.9 523.0 L480.8 523.0 L479.6 522.9 L478.4 522.8 L477.2 522.8 L476.0 522.7 L474.8 522.7 L473.6 522.7 L472.5 522.7 L471.3 522.7 L470.1 522.7 L468.9 522.7 L467.7 522.7 L466.5 522.7 L465.4 522.7 L464.2 522.7 L463.0 522.7 L461.8 522.8 L460.6 522.8 L459.4 522.8 L458.3 522.8 L457.1 522.6 L455.9 521.7Z" fill="url(#g11)" filter="url(#bh)" opacity="0.55"/>
<path d="M455.9 521.6 L457.1 521.1 L458.3 521.0 L459.4 520.9 L460.6 520.9 L461.8 520.9 L463.0 520.8 L464.2 520.8 L465.4 520.7 L466.5 520.6 L467.7 520.5 L468.9 520.5 L470.1 520.4 L471.3 520.3 L472.5 520.1 L473.6 520.0 L474.8 519.8 L476.0 519.6 L477.2 519.3 L478.4 519.1 L479.6 518.7 L480.8 518.4 L481.9 518.2 L483.1 517.9 L484.3 517.7 L485.5 517.4 L486.7 517.2 L487.9 517.0 L489.0 516.8 L490.2 516.7 L491.4 516.7 L492.6 516.7 L493.8 516.8 L494.9 516.9 L496.1 517.1 L497.3 517.6 L498.5 519.3 L498.5 519.7 L497.3 521.3 L496.1 521.7 L494.9 521.8 L493.8 521.9 L492.6 521.9 L491.4 521.9 L490.2 521.9 L489.0 521.9 L487.9 521.9 L486.7 521.9 L485.5 521.9 L484.3 521.9 L483.1 521.9 L481.9 521.9 L480.8 521.8 L479.6 521.8 L478.4 521.8 L477.2 521.8 L476.0 521.8 L474.8 521.8 L473.6 521.8 L472.5 521.8 L471.3 521.8 L470.1 521.9 L468.9 521.9 L467.7 521.9 L466.5 521.9 L465.4 521.9 L464.2 522.0 L463.0 522.0 L461.8 522.0 L460.6 522.0 L459.4 522.1 L458.3 522.1 L457.1 522.0 L455.9 521.6Z" fill="url(#g11)" filter="url(#bc)"/>
<path d="M182.6 581.6 L183.9 577.8 L185.2 577.0 L186.4 576.7 L187.7 576.5 L189.0 576.4 L190.3 576.5 L191.6 576.6 L192.9 576.8 L194.2 577.1 L195.4 577.5 L196.7 577.8 L198.0 578.2 L199.3 578.5 L200.6 578.8 L201.8 579.1 L203.1 579.4 L204.4 579.7 L205.7 580.0 L207.0 580.2 L208.3 580.5 L209.6 580.8 L210.8 581.0 L212.1 581.3 L213.4 581.5 L214.7 581.7 L216.0 581.9 L217.2 582.0 L218.5 582.2 L219.8 582.3 L221.1 582.4 L222.4 582.5 L223.7 582.6 L225.0 582.6 L226.2 582.7 L227.5 583.2 L228.8 586.6 L228.8 587.2 L227.5 590.5 L226.2 591.0 L225.0 591.0 L223.7 591.0 L222.4 591.0 L221.1 590.9 L219.8 590.8 L218.5 590.7 L217.2 590.6 L216.0 590.4 L214.7 590.3 L213.4 590.1 L212.1 589.9 L210.8 589.7 L209.6 589.5 L208.3 589.3 L207.0 589.1 L205.7 588.8 L204.4 588.6 L203.1 588.3 L201.8 588.1 L200.6 587.9 L199.3 587.6 L198.0 587.3 L196.7 587.1 L195.4 586.8 L194.2 586.5 L192.9 586.3 L191.6 586.1 L190.3 586.0 L189.0 585.9 L187.7 586.0 L186.4 586.1 L185.2 586.2 L183.9 585.9 L182.6 582.4Z" fill="url(#g12)" filter="url(#bh)" opacity="0.55"/>
<path d="M182.6 581.8 L183.9 579.2 L185.2 578.6 L186.4 578.3 L187.7 578.2 L189.0 578.1 L190.3 578.1 L191.6 578.3 L192.9 578.5 L194.2 578.8 L195.4 579.1 L196.7 579.4 L198.0 579.8 L199.3 580.1 L200.6 580.4 L201.8 580.6 L203.1 580.9 L204.4 581.2 L205.7 581.5 L207.0 581.8 L208.3 582.1 L209.6 582.3 L210.8 582.6 L212.1 582.8 L213.4 583.0 L214.7 583.2 L216.0 583.4 L217.2 583.6 L218.5 583.7 L219.8 583.8 L221.1 584.0 L222.4 584.0 L223.7 584.1 L225.0 584.1 L226.2 584.2 L227.5 584.5 L228.8 586.7 L228.8 587.1 L227.5 589.2 L226.2 589.5 L225.0 589.5 L223.7 589.5 L222.4 589.5 L221.1 589.4 L219.8 589.3 L218.5 589.2 L217.2 589.1 L216.0 588.9 L214.7 588.8 L213.4 588.6 L212.1 588.4 L210.8 588.2 L209.6 588.0 L208.3 587.7 L207.0 587.5 L205.7 587.3 L204.4 587.0 L203.1 586.8 L201.8 586.5 L200.6 586.3 L199.3 586.0 L198.0 585.7 L196.7 585.5 L195.4 585.2 L194.2 584.9 L192.9 584.7 L191.6 584.5 L190.3 584.3 L189.0 584.3 L187.7 584.3 L186.4 584.5 L185.2 584.6 L183.9 584.5 L182.6 582.2Z" fill="url(#g12)" filter="url(#bc)"/>
<path d="M248.0 589.3 L248.9 586.8 L249.9 586.2 L250.8 586.0 L251.7 585.9 L252.7 585.7 L253.6 585.6 L254.5 585.4 L255.4 585.2 L256.4 585.1 L257.3 584.9 L258.2 584.8 L259.2 584.6 L260.1 584.4 L261.0 584.3 L262.0 584.1 L262.9 583.9 L263.8 583.8 L264.8 583.6 L265.7 583.4 L266.6 583.2 L267.5 583.1 L268.5 582.9 L269.4 582.7 L270.3 582.5 L271.3 582.4 L272.2 582.2 L273.1 582.1 L274.1 581.9 L275.0 581.8 L275.9 581.7 L276.8 581.7 L277.8 581.6 L278.7 581.6 L279.6 581.6 L280.6 582.2 L281.5 585.5 L281.5 586.1 L280.6 589.5 L279.6 590.3 L278.7 590.4 L277.8 590.5 L276.8 590.6 L275.9 590.7 L275.0 590.8 L274.1 590.8 L273.1 590.9 L272.2 591.0 L271.3 591.1 L270.3 591.2 L269.4 591.3 L268.5 591.3 L267.5 591.4 L266.6 591.5 L265.7 591.6 L264.8 591.7 L263.8 591.8 L262.9 591.8 L262.0 591.9 L261.0 592.0 L260.1 592.1 L259.2 592.2 L258.2 592.3 L257.3 592.4 L256.4 592.4 L255.4 592.5 L254.5 592.5 L253.6 592.6 L252.7 592.6 L251.7 592.6 L250.8 592.7 L249.9 592.7 L248.9 592.2 L248.0 589.9Z" fill="url(#g13)" filter="url(#bh)" opacity="0.55"/>
<path d="M248.0 589.4 L248.9 587.9 L249.9 587.4 L250.8 587.3 L251.7 587.2 L252.7 587.0 L253.6 586.9 L254.5 586.7 L255.4 586.6 L256.4 586.4 L257.3 586.3 L258.2 586.2 L259.2 586.0 L260.1 585.8 L261.0 585.7 L262.0 585.5 L262.9 585.4 L263.8 585.2 L264.8 585.1 L265.7 584.9 L266.6 584.7 L267.5 584.6 L268.5 584.4 L269.4 584.2 L270.3 584.1 L271.3 583.9 L272.2 583.8 L273.1 583.6 L274.1 583.5 L275.0 583.4 L275.9 583.3 L276.8 583.2 L277.8 583.2 L278.7 583.1 L279.6 583.1 L280.6 583.5 L281.5 585.6 L281.5 586.0 L280.6 588.2 L279.6 588.7 L278.7 588.9 L277.8 588.9 L276.8 589.0 L275.9 589.1 L275.0 589.2 L274.1 589.3 L273.1 589.4 L272.2 589.5 L271.3 589.5 L270.3 589.6 L269.4 589.7 L268.5 589.8 L267.5 589.9 L266.6 590.0 L265.7 590.1 L264.8 590.2 L263.8 590.3 L262.9 590.4 L262.0 590.5 L261.0 590.6 L260.1 590.7 L259.2 590.8 L258.2 590.9 L257.3 591.0 L256.4 591.1 L255.4 591.1 L254.5 591.2 L253.6 591.3 L252.7 591.3 L251.7 591.4 L250.8 591.4 L249.9 591.4 L248.9 591.1 L248.0 589.8Z" fill="url(#g13)" filter="url(#bc)"/>
<path d="M295.2 585.3 L296.3 582.7 L297.4 582.3 L298.6 582.3 L299.7 582.2 L300.8 582.2 L301.9 582.2 L303.1 582.3 L304.2 582.3 L305.3 582.4 L306.4 582.5 L307.6 582.5 L308.7 582.6 L309.8 582.6 L310.9 582.7 L312.1 582.7 L313.2 582.7 L314.3 582.7 L315.4 582.7 L316.6 582.7 L317.7 582.7 L318.8 582.7 L319.9 582.7 L321.1 582.6 L322.2 582.6 L323.3 582.6 L324.4 582.5 L325.6 582.5 L326.7 582.5 L327.8 582.5 L328.9 582.5 L330.1 582.4 L331.2 582.5 L332.3 582.5 L333.4 582.5 L334.6 582.9 L335.7 585.7 L335.7 586.3 L334.6 589.1 L333.4 589.6 L332.3 589.7 L331.2 589.8 L330.1 589.9 L328.9 590.0 L327.8 590.0 L326.7 590.1 L325.6 590.2 L324.4 590.2 L323.3 590.3 L322.2 590.4 L321.1 590.5 L319.9 590.6 L318.8 590.7 L317.7 590.8 L316.6 590.9 L315.4 591.1 L314.3 591.2 L313.2 591.3 L312.1 591.4 L310.9 591.4 L309.8 591.3 L308.7 591.2 L307.6 591.0 L306.4 590.7 L305.3 590.4 L304.2 590.2 L303.1 589.9 L301.9 589.7 L300.8 589.6 L299.7 589.4 L298.6 589.3 L297.4 589.1 L296.3 588.6 L295.2 585.9Z" fill="url(#g14)" filter="url(#bh)" opacity="0.55"/>
<path d="M295.2 585.4 L296.3 583.8 L297.4 583.6 L298.6 583.6 L299.7 583.6 L300.8 583.6 L301.9 583.6 L303.1 583.7 L304.2 583.8 L305.3 583.8 L306.4 583.9 L307.6 584.0 L308.7 584.1 L309.8 584.2 L310.9 584.2 L312.1 584.2 L313.2 584.2 L314.3 584.2 L315.4 584.2 L316.6 584.2 L317.7 584.1 L318.8 584.1 L319.9 584.1 L321.1 584.1 L322.2 584.0 L323.3 584.0 L324.4 584.0 L325.6 583.9 L326.7 583.9 L327.8 583.9 L328.9 583.8 L330.1 583.8 L331.2 583.8 L332.3 583.8 L333.4 583.8 L334.6 584.1 L335.7 585.8 L335.7 586.2 L334.6 588.0 L333.4 588.3 L332.3 588.4 L331.2 588.4 L330.1 588.5 L328.9 588.6 L327.8 588.6 L326.7 588.7 L325.6 588.8 L324.4 588.8 L323.3 588.9 L322.2 589.0 L321.1 589.0 L319.9 589.1 L318.8 589.2 L317.7 589.3 L316.6 589.4 L315.4 589.6 L314.3 589.7 L313.2 589.8 L312.1 589.8 L310.9 589.8 L309.8 589.8 L308.7 589.6 L307.6 589.5 L306.4 589.2 L305.3 589.0 L304.2 588.8 L303.1 588.5 L301.9 588.4 L300.8 588.2 L299.7 588.1 L298.6 587.9 L297.4 587.8 L296.3 587.5 L295.2 585.8Z" fill="url(#g14)" filter="url(#bc)"/>
<path d="M349.9 585.9 L351.0 583.3 L352.2 583.0 L353.3 583.0 L354.5 583.0 L355.6 583.0 L356.8 583.0 L357.9 583.0 L359.1 583.1 L360.2 583.1 L361.3 583.1 L362.5 583.1 L363.6 583.2 L364.8 583.2 L365.9 583.2 L367.1 583.2 L368.2 583.1 L369.4 583.1 L370.5 583.0 L371.6 582.9 L372.8 582.9 L373.9 582.8 L375.1 582.7 L376.2 582.6 L377.4 582.5 L378.5 582.4 L379.7 582.3 L380.8 582.2 L381.9 582.1 L383.1 582.1 L384.2 582.0 L385.4 582.0 L386.5 581.9 L387.7 582.0 L388.8 582.0 L390.0 582.6 L391.1 586.2 L391.1 587.0 L390.0 590.6 L388.8 591.1 L387.7 591.2 L386.5 591.2 L385.4 591.3 L384.2 591.3 L383.1 591.4 L381.9 591.4 L380.8 591.5 L379.7 591.5 L378.5 591.5 L377.4 591.6 L376.2 591.6 L375.1 591.6 L373.9 591.6 L372.8 591.7 L371.6 591.7 L370.5 591.7 L369.4 591.7 L368.2 591.7 L367.1 591.6 L365.9 591.6 L364.8 591.5 L363.6 591.4 L362.5 591.4 L361.3 591.3 L360.2 591.2 L359.1 591.1 L357.9 590.9 L356.8 590.8 L355.6 590.6 L354.5 590.4 L353.3 590.1 L352.2 589.9 L351.0 589.3 L349.9 586.5Z" fill="url(#g15)" filter="url(#bh)" opacity="0.55"/>
<path d="M349.9 586.0 L351.0 584.5 L352.2 584.3 L353.3 584.3 L354.5 584.4 L355.6 584.4 L356.8 584.4 L357.9 584.5 L359.1 584.5 L360.2 584.5 L361.3 584.6 L362.5 584.6 L363.6 584.6 L364.8 584.7 L365.9 584.7 L367.1 584.7 L368.2 584.7 L369.4 584.6 L370.5 584.6 L371.6 584.5 L372.8 584.4 L373.9 584.3 L375.1 584.2 L376.2 584.2 L377.4 584.1 L378.5 584.0 L379.7 583.9 L380.8 583.8 L381.9 583.8 L383.1 583.7 L384.2 583.6 L385.4 583.6 L386.5 583.6 L387.7 583.6 L388.8 583.6 L390.0 584.0 L391.1 586.4 L391.1 586.8 L390.0 589.2 L388.8 589.5 L387.7 589.6 L386.5 589.6 L385.4 589.7 L384.2 589.7 L383.1 589.7 L381.9 589.8 L380.8 589.8 L379.7 589.9 L378.5 589.9 L377.4 590.0 L376.2 590.0 L375.1 590.0 L373.9 590.1 L372.8 590.1 L371.6 590.1 L370.5 590.2 L369.4 590.2 L368.2 590.1 L367.1 590.1 L365.9 590.1 L364.8 590.0 L363.6 590.0 L362.5 589.9 L361.3 589.8 L360.2 589.7 L359.1 589.6 L357.9 589.5 L356.8 589.4 L355.6 589.2 L354.5 589.0 L353.3 588.8 L352.2 588.6 L351.0 588.2 L349.9 586.4Z" fill="url(#g15)" filter="url(#bc)"/>
<path d="M401.8 586.5 L402.9 582.9 L404.0 582.0 L405.0 581.7 L406.1 581.5 L407.2 581.4 L408.3 581.3 L409.4 581.2 L410.4 581.3 L411.5 581.4 L412.6 581.6 L413.7 581.8 L414.8 582.1 L415.8 582.4 L416.9 582.7 L418.0 583.0 L419.1 583.2 L420.2 583.5 L421.2 583.8 L422.3 584.1 L423.4 584.4 L424.5 584.7 L425.6 584.9 L426.7 585.1 L427.7 585.2 L428.8 585.2 L429.9 585.2 L431.0 585.2 L432.1 585.1 L433.1 585.0 L434.2 584.8 L435.3 584.6 L436.4 584.3 L437.5 584.0 L438.5 583.7 L439.6 584.2 L440.7 587.9 L440.7 588.7 L439.6 593.0 L438.5 594.2 L437.5 594.6 L436.4 595.0 L435.3 595.3 L434.2 595.5 L433.1 595.7 L432.1 595.8 L431.0 595.8 L429.9 595.8 L428.8 595.8 L427.7 595.7 L426.7 595.6 L425.6 595.4 L424.5 595.1 L423.4 594.8 L422.3 594.4 L421.2 594.1 L420.2 593.7 L419.1 593.4 L418.0 593.1 L416.9 592.7 L415.8 592.4 L414.8 592.1 L413.7 591.8 L412.6 591.6 L411.5 591.4 L410.4 591.2 L409.4 591.1 L408.3 591.1 L407.2 591.1 L406.1 591.2 L405.0 591.3 L404.0 591.3 L402.9 590.7 L401.8 587.3Z" fill="url(#g16)" filter="url(#bh)" opacity="0.55"/>
<path d="M401.8 586.7 L402.9 584.2 L404.0 583.6 L405.0 583.4 L406.1 583.2 L407.2 583.1 L408.3 583.0 L409.4 582.9 L410.4 583.0 L411.5 583.1 L412.6 583.3 L413.7 583.5 L414.8 583.8 L415.8 584.1 L416.9 584.4 L418.0 584.7 L419.1 584.9 L420.2 585.2 L421.2 585.6 L422.3 585.9 L423.4 586.2 L424.5 586.5 L425.6 586.7 L426.7 586.8 L427.7 586.9 L428.8 587.0 L429.9 587.0 L431.0 586.9 L432.1 586.9 L433.1 586.8 L434.2 586.6 L435.3 586.4 L436.4 586.1 L437.5 585.8 L438.5 585.5 L439.6 585.7 L440.7 588.0 L440.7 588.6 L439.6 591.5 L438.5 592.5 L437.5 592.9 L436.4 593.2 L435.3 593.5 L434.2 593.7 L433.1 593.9 L432.1 594.0 L431.0 594.0 L429.9 594.0 L428.8 594.0 L427.7 593.9 L426.7 593.8 L425.6 593.6 L424.5 593.4 L423.4 593.0 L422.3 592.7 L421.2 592.3 L420.2 592.0 L419.1 591.6 L418.0 591.3 L416.9 591.0 L415.8 590.7 L414.8 590.4 L413.7 590.1 L412.6 589.9 L411.5 589.7 L410.4 589.5 L409.4 589.4 L408.3 589.4 L407.2 589.4 L406.1 589.5 L405.0 589.6 L404.0 589.7 L402.9 589.4 L401.8 587.1Z" fill="url(#g16)" filter="url(#bc)"/>
<path d="M457.9 584.6 L458.9 582.0 L459.9 581.3 L460.9 581.1 L461.8 581.1 L462.8 581.0 L463.8 581.0 L464.8 580.9 L465.8 581.0 L466.8 581.0 L467.8 581.1 L468.7 581.2 L469.7 581.4 L470.7 581.5 L471.7 581.6 L472.7 581.8 L473.7 582.0 L474.7 582.2 L475.6 582.5 L476.6 582.7 L477.6 582.8 L478.6 582.7 L479.6 582.6 L480.6 582.4 L481.6 582.1 L482.6 581.8 L483.5 581.5 L484.5 581.2 L485.5 580.9 L486.5 580.8 L487.5 580.6 L488.5 580.4 L489.5 580.2 L490.4 580.0 L491.4 579.9 L492.4 580.4 L493.4 583.3 L493.4 583.9 L492.4 587.1 L491.4 587.9 L490.4 588.2 L489.5 588.3 L488.5 588.4 L487.5 588.6 L486.5 588.7 L485.5 588.9 L484.5 589.1 L483.5 589.3 L482.6 589.6 L481.6 589.9 L480.6 590.1 L479.6 590.3 L478.6 590.4 L477.6 590.4 L476.6 590.3 L475.6 590.1 L474.7 589.8 L473.7 589.5 L472.7 589.3 L471.7 589.1 L470.7 589.0 L469.7 588.9 L468.7 588.8 L467.8 588.8 L466.8 588.7 L465.8 588.7 L464.8 588.6 L463.8 588.6 L462.8 588.6 L461.8 588.5 L460.9 588.5 L459.9 588.4 L458.9 587.8 L457.9 585.2Z" fill="url(#g17)" filter="url(#bh)" opacity="0.55"/>
<path d="M457.9 584.7 L458.9 583.1 L459.9 582.6 L460.9 582.5 L461.8 582.4 L462.8 582.4 L463.8 582.4 L464.8 582.4 L465.8 582.4 L466.8 582.4 L467.8 582.5 L468.7 582.6 L469.7 582.7 L470.7 582.9 L471.7 583.0 L472.7 583.2 L473.7 583.4 L474.7 583.6 L475.6 583.9 L476.6 584.1 L477.6 584.2 L478.6 584.1 L479.6 584.0 L480.6 583.8 L481.6 583.5 L482.6 583.2 L483.5 582.9 L484.5 582.6 L485.5 582.4 L486.5 582.2 L487.5 582.0 L488.5 581.8 L489.5 581.7 L490.4 581.5 L491.4 581.4 L492.4 581.6 L493.4 583.4 L493.4 583.8 L492.4 585.9 L491.4 586.5 L490.4 586.7 L489.5 586.8 L488.5 587.0 L487.5 587.1 L486.5 587.3 L485.5 587.4 L484.5 587.6 L483.5 587.9 L482.6 588.2 L481.6 588.4 L480.6 588.7 L479.6 588.9 L478.6 589.0 L477.6 589.0 L476.6 588.9 L475.6 588.7 L474.7 588.4 L473.7 588.1 L472.7 587.9 L471.7 587.7 L470.7 587.6 L469.7 587.5 L468.7 587.5 L467.8 587.4 L466.8 587.3 L465.8 587.3 L464.8 587.2 L463.8 587.2 L462.8 587.2 L461.8 587.2 L460.9 587.2 L459.9 587.1 L458.9 586.7 L457.9 585.1Z" fill="url(#g17)" filter="url(#bc)"/>
<path d="M177.1 633.7 L178.5 632.1 L180.0 631.5 L181.4 631.0 L182.8 630.7 L184.3 630.5 L185.7 630.4 L187.2 630.3 L188.6 630.2 L190.0 630.2 L191.5 630.3 L192.9 630.3 L194.3 630.4 L195.8 630.5 L197.2 630.6 L198.6 630.7 L200.1 630.7 L201.5 630.8 L202.9 630.8 L204.4 630.7 L205.8 630.6 L207.3 630.4 L208.7 630.2 L210.1 630.0 L211.6 629.9 L213.0 629.7 L214.4 629.7 L215.9 629.6 L217.3 629.7 L218.7 629.8 L220.2 630.0 L221.6 630.2 L223.1 630.5 L224.5 630.8 L225.9 631.4 L227.4 632.1 L228.8 633.7 L228.8 634.1 L227.4 635.6 L225.9 636.2 L224.5 636.5 L223.1 636.7 L221.6 636.8 L220.2 636.9 L218.7 637.0 L217.3 637.1 L215.9 637.2 L214.4 637.2 L213.0 637.3 L211.6 637.4 L210.1 637.4 L208.7 637.5 L207.3 637.5 L205.8 637.6 L204.4 637.6 L202.9 637.7 L201.5 637.7 L200.1 637.7 L198.6 637.7 L197.2 637.7 L195.8 637.7 L194.3 637.7 L192.9 637.7 L191.5 637.7 L190.0 637.6 L188.6 637.6 L187.2 637.5 L185.7 637.4 L184.3 637.2 L182.8 637.1 L181.4 636.8 L180.0 636.3 L178.5 635.7 L177.1 634.1Z" fill="url(#g18)" filter="url(#bh)" opacity="0.55"/>
<path d="M177.1 633.8 L178.5 632.9 L180.0 632.5 L181.4 632.1 L182.8 631.9 L184.3 631.8 L185.7 631.7 L187.2 631.6 L188.6 631.6 L190.0 631.6 L191.5 631.6 L192.9 631.7 L194.3 631.8 L195.8 631.9 L197.2 631.9 L198.6 632.0 L200.1 632.0 L201.5 632.1 L202.9 632.1 L204.4 632.0 L205.8 631.9 L207.3 631.7 L208.7 631.6 L210.1 631.4 L211.6 631.3 L213.0 631.1 L214.4 631.0 L215.9 631.0 L217.3 631.1 L218.7 631.2 L220.2 631.3 L221.6 631.5 L223.1 631.7 L224.5 632.0 L225.9 632.3 L227.4 632.8 L228.8 633.8 L228.8 634.0 L227.4 634.9 L225.9 635.2 L224.5 635.4 L223.1 635.5 L221.6 635.6 L220.2 635.6 L218.7 635.7 L217.3 635.7 L215.9 635.8 L214.4 635.8 L213.0 635.9 L211.6 636.0 L210.1 636.1 L208.7 636.1 L207.3 636.2 L205.8 636.3 L204.4 636.3 L202.9 636.3 L201.5 636.4 L200.1 636.4 L198.6 636.4 L197.2 636.4 L195.8 636.4 L194.3 636.3 L192.9 636.3 L191.5 636.3 L190.0 636.3 L188.6 636.2 L187.2 636.1 L185.7 636.1 L184.3 635.9 L182.8 635.8 L181.4 635.6 L180.0 635.3 L178.5 634.9 L177.1 634.0Z" fill="url(#g18)" filter="url(#bc)"/>
<path d="M238.9 634.7 L240.0 632.6 L241.0 632.0 L242.1 631.7 L243.2 631.6 L244.2 631.5 L245.3 631.5 L246.4 631.5 L247.5 631.5 L248.5 631.5 L249.6 631.5 L250.7 631.5 L251.7 631.6 L252.8 631.6 L253.9 631.7 L254.9 631.7 L256.0 631.8 L257.1 631.8 L258.1 631.9 L259.2 631.9 L260.3 631.9 L261.4 631.9 L262.4 631.9 L263.5 631.9 L264.6 631.8 L265.6 631.8 L266.7 631.8 L267.8 631.8 L268.8 631.8 L269.9 631.9 L271.0 631.9 L272.1 631.9 L273.1 632.0 L274.2 632.0 L275.3 632.3 L276.3 632.9 L277.4 635.0 L277.4 635.6 L276.3 637.7 L275.3 638.4 L274.2 638.7 L273.1 638.7 L272.1 638.8 L271.0 638.9 L269.9 638.9 L268.8 639.0 L267.8 639.0 L266.7 639.0 L265.6 639.0 L264.6 639.0 L263.5 639.0 L262.4 639.0 L261.4 639.0 L260.3 639.0 L259.2 639.0 L258.1 639.0 L257.1 638.9 L256.0 638.9 L254.9 638.9 L253.9 638.8 L252.8 638.8 L251.7 638.7 L250.7 638.7 L249.6 638.7 L248.5 638.6 L247.5 638.6 L246.4 638.5 L245.3 638.5 L244.2 638.4 L243.2 638.4 L242.1 638.3 L241.0 638.0 L240.0 637.4 L238.9 635.3Z" fill="url(#g19)" filter="url(#bh)" opacity="0.55"/>
<path d="M238.9 634.8 L240.0 633.5 L241.0 633.1 L242.1 632.9 L243.2 632.9 L244.2 632.8 L245.3 632.8 L246.4 632.8 L247.5 632.8 L248.5 632.8 L249.6 632.8 L250.7 632.9 L251.7 632.9 L252.8 633.0 L253.9 633.0 L254.9 633.1 L256.0 633.1 L257.1 633.2 L258.1 633.2 L259.2 633.2 L260.3 633.2 L261.4 633.2 L262.4 633.2 L263.5 633.2 L264.6 633.2 L265.6 633.2 L266.7 633.2 L267.8 633.2 L268.8 633.2 L269.9 633.2 L271.0 633.2 L272.1 633.2 L273.1 633.3 L274.2 633.3 L275.3 633.5 L276.3 633.9 L277.4 635.1 L277.4 635.5 L276.3 636.8 L275.3 637.2 L274.2 637.4 L273.1 637.5 L272.1 637.5 L271.0 637.6 L269.9 637.6 L268.8 637.6 L267.8 637.6 L266.7 637.7 L265.6 637.7 L264.6 637.7 L263.5 637.7 L262.4 637.7 L261.4 637.7 L260.3 637.7 L259.2 637.6 L258.1 637.6 L257.1 637.6 L256.0 637.6 L254.9 637.5 L253.9 637.5 L252.8 637.5 L251.7 637.4 L250.7 637.4 L249.6 637.3 L248.5 637.3 L247.5 637.2 L246.4 637.2 L245.3 637.2 L244.2 637.1 L243.2 637.1 L242.1 637.0 L241.0 636.9 L240.0 636.5 L238.9 635.2Z" fill="url(#g19)" filter="url(#bc)"/>
<path d="M288.1 634.7 L289.3 632.6 L290.5 632.0 L291.7 631.9 L292.8 631.9 L294.0 631.9 L295.2 631.9 L296.4 632.0 L297.6 632.1 L298.8 632.2 L299.9 632.4 L301.1 632.5 L302.3 632.7 L303.5 632.9 L304.7 633.1 L305.9 633.3 L307.0 633.4 L308.2 633.5 L309.4 633.6 L310.6 633.6 L311.8 633.6 L312.9 633.5 L314.1 633.4 L315.3 633.4 L316.5 633.3 L317.7 633.2 L318.9 633.1 L320.1 633.0 L321.2 632.9 L322.4 632.9 L323.6 632.8 L324.8 632.7 L326.0 632.6 L327.1 632.5 L328.3 632.6 L329.5 633.0 L330.7 635.0 L330.7 635.4 L329.5 637.7 L328.3 638.4 L327.1 638.8 L326.0 639.0 L324.8 639.3 L323.6 639.5 L322.4 639.7 L321.2 639.8 L320.1 639.9 L318.9 640.0 L317.7 640.1 L316.5 640.2 L315.3 640.3 L314.1 640.4 L312.9 640.4 L311.8 640.5 L310.6 640.5 L309.4 640.5 L308.2 640.4 L307.0 640.3 L305.9 640.2 L304.7 640.1 L303.5 640.0 L302.3 639.8 L301.1 639.6 L299.9 639.5 L298.8 639.3 L297.6 639.2 L296.4 639.1 L295.2 638.9 L294.0 638.8 L292.8 638.7 L291.7 638.5 L290.5 638.2 L289.3 637.5 L288.1 635.3Z" fill="url(#g20)" filter="url(#bh)" opacity="0.55"/>
<path d="M288.1 634.8 L289.3 633.6 L290.5 633.2 L291.7 633.1 L292.8 633.2 L294.0 633.2 L295.2 633.2 L296.4 633.3 L297.6 633.4 L298.8 633.6 L299.9 633.7 L301.1 633.9 L302.3 634.1 L303.5 634.2 L304.7 634.4 L305.9 634.6 L307.0 634.7 L308.2 634.8 L309.4 634.9 L310.6 634.9 L311.8 634.9 L312.9 634.8 L314.1 634.8 L315.3 634.7 L316.5 634.6 L317.7 634.5 L318.9 634.4 L320.1 634.3 L321.2 634.2 L322.4 634.1 L323.6 634.0 L324.8 633.9 L326.0 633.8 L327.1 633.7 L328.3 633.7 L329.5 633.9 L330.7 635.1 L330.7 635.3 L329.5 636.8 L328.3 637.3 L327.1 637.6 L326.0 637.8 L324.8 638.0 L323.6 638.2 L322.4 638.4 L321.2 638.5 L320.1 638.6 L318.9 638.7 L317.7 638.8 L316.5 638.9 L315.3 639.0 L314.1 639.1 L312.9 639.1 L311.8 639.2 L310.6 639.2 L309.4 639.2 L308.2 639.1 L307.0 639.0 L305.9 638.9 L304.7 638.8 L303.5 638.6 L302.3 638.5 L301.1 638.3 L299.9 638.2 L298.8 638.0 L297.6 637.9 L296.4 637.7 L295.2 637.6 L294.0 637.5 L292.8 637.4 L291.7 637.3 L290.5 637.1 L289.3 636.6 L288.1 635.2Z" fill="url(#g20)" filter="url(#bc)"/>
<path d="M340.4 635.8 L341.6 633.9 L342.9 633.2 L344.1 632.8 L345.4 632.6 L346.6 632.4 L347.9 632.3 L349.1 632.2 L350.4 632.2 L351.6 632.1 L352.9 632.1 L354.1 632.1 L355.4 632.2 L356.6 632.2 L357.9 632.2 L359.1 632.3 L360.4 632.3 L361.6 632.3 L362.9 632.3 L364.1 632.3 L365.4 632.3 L366.6 632.3 L367.9 632.2 L369.1 632.2 L370.4 632.2 L371.6 632.1 L372.9 632.1 L374.1 632.1 L375.4 632.2 L376.6 632.2 L377.9 632.3 L379.1 632.4 L380.4 632.6 L381.6 632.8 L382.9 633.2 L384.1 633.9 L385.4 635.8 L385.4 636.2 L384.1 638.1 L382.9 638.8 L381.6 639.2 L380.4 639.4 L379.1 639.5 L377.9 639.6 L376.6 639.7 L375.4 639.8 L374.1 639.9 L372.9 639.9 L371.6 640.0 L370.4 640.0 L369.1 640.0 L367.9 640.0 L366.6 640.0 L365.4 640.0 L364.1 640.0 L362.9 640.0 L361.6 640.0 L360.4 640.0 L359.1 640.0 L357.9 640.0 L356.6 640.0 L355.4 640.0 L354.1 640.0 L352.9 639.9 L351.6 639.9 L350.4 639.8 L349.1 639.7 L347.9 639.6 L346.6 639.5 L345.4 639.4 L344.1 639.2 L342.9 638.8 L341.6 638.1 L340.4 636.2Z" fill="url(#g21)" filter="url(#bh)" opacity="0.55"/>
<path d="M340.4 635.9 L341.6 634.7 L342.9 634.3 L344.1 634.0 L345.4 633.9 L346.6 633.8 L347.9 633.7 L349.1 633.6 L350.4 633.6 L351.6 633.5 L352.9 633.5 L354.1 633.6 L355.4 633.6 L356.6 633.6 L357.9 633.7 L359.1 633.7 L360.4 633.7 L361.6 633.7 L362.9 633.8 L364.1 633.8 L365.4 633.7 L366.6 633.7 L367.9 633.7 L369.1 633.6 L370.4 633.6 L371.6 633.6 L372.9 633.5 L374.1 633.5 L375.4 633.6 L376.6 633.6 L377.9 633.7 L379.1 633.8 L380.4 633.9 L381.6 634.0 L382.9 634.3 L384.1 634.7 L385.4 635.9 L385.4 636.1 L384.1 637.3 L382.9 637.7 L381.6 638.0 L380.4 638.1 L379.1 638.2 L377.9 638.3 L376.6 638.4 L375.4 638.4 L374.1 638.5 L372.9 638.5 L371.6 638.5 L370.4 638.6 L369.1 638.6 L367.9 638.6 L366.6 638.6 L365.4 638.6 L364.1 638.6 L362.9 638.6 L361.6 638.6 L360.4 638.6 L359.1 638.6 L357.9 638.6 L356.6 638.6 L355.4 638.6 L354.1 638.5 L352.9 638.5 L351.6 638.5 L350.4 638.4 L349.1 638.4 L347.9 638.3 L346.6 638.2 L345.4 638.1 L344.1 638.0 L342.9 637.7 L341.6 637.3 L340.4 636.1Z" fill="url(#g21)" filter="url(#bc)"/>
<path d="M396.5 636.1 L397.6 634.1 L398.6 633.3 L399.7 632.8 L400.8 632.5 L401.8 632.4 L402.9 632.3 L404.0 632.2 L405.1 632.1 L406.1 632.0 L407.2 632.0 L408.3 632.0 L409.3 632.0 L410.4 632.0 L411.5 632.0 L412.5 632.0 L413.6 632.0 L414.7 632.0 L415.8 632.0 L416.8 632.0 L417.9 632.0 L419.0 632.0 L420.0 632.0 L421.1 632.0 L422.2 632.0 L423.2 632.0 L424.3 632.0 L425.4 632.0 L426.4 632.1 L427.5 632.1 L428.6 632.2 L429.7 632.4 L430.7 632.5 L431.8 632.8 L432.9 633.3 L433.9 634.1 L435.0 636.1 L435.0 636.7 L433.9 638.7 L432.9 639.5 L431.8 640.0 L430.7 640.3 L429.7 640.4 L428.6 640.6 L427.5 640.7 L426.4 640.7 L425.4 640.8 L424.3 640.8 L423.2 640.8 L422.2 640.8 L421.1 640.8 L420.0 640.8 L419.0 640.8 L417.9 640.8 L416.8 640.8 L415.8 640.8 L414.7 640.8 L413.6 640.8 L412.5 640.8 L411.5 640.8 L410.4 640.8 L409.3 640.8 L408.3 640.8 L407.2 640.8 L406.1 640.8 L405.1 640.7 L404.0 640.6 L402.9 640.5 L401.8 640.4 L400.8 640.3 L399.7 640.0 L398.6 639.5 L397.6 638.7 L396.5 636.7Z" fill="url(#g22)" filter="url(#bh)" opacity="0.55"/>
<path d="M396.5 636.2 L397.6 635.0 L398.6 634.5 L399.7 634.2 L400.8 633.9 L401.8 633.8 L402.9 633.8 L404.0 633.7 L405.1 633.6 L406.1 633.6 L407.2 633.6 L408.3 633.5 L409.3 633.5 L410.4 633.5 L411.5 633.6 L412.5 633.6 L413.6 633.6 L414.7 633.6 L415.8 633.6 L416.8 633.6 L417.9 633.6 L419.0 633.6 L420.0 633.6 L421.1 633.5 L422.2 633.5 L423.2 633.5 L424.3 633.5 L425.4 633.6 L426.4 633.6 L427.5 633.7 L428.6 633.7 L429.7 633.8 L430.7 633.9 L431.8 634.1 L432.9 634.5 L433.9 635.0 L435.0 636.2 L435.0 636.6 L433.9 637.8 L432.9 638.3 L431.8 638.7 L430.7 638.9 L429.7 639.0 L428.6 639.1 L427.5 639.1 L426.4 639.2 L425.4 639.2 L424.3 639.3 L423.2 639.3 L422.2 639.3 L421.1 639.3 L420.0 639.2 L419.0 639.2 L417.9 639.2 L416.8 639.2 L415.8 639.2 L414.7 639.2 L413.6 639.2 L412.5 639.2 L411.5 639.2 L410.4 639.3 L409.3 639.3 L408.3 639.3 L407.2 639.2 L406.1 639.2 L405.1 639.2 L404.0 639.1 L402.9 639.0 L401.8 639.0 L400.8 638.9 L399.7 638.6 L398.6 638.3 L397.6 637.8 L396.5 636.6Z" fill="url(#g22)" filter="url(#bc)"/>
<path d="M445.7 635.5 L447.0 633.4 L448.2 632.8 L449.5 632.6 L450.8 632.5 L452.0 632.5 L453.3 632.5 L454.6 632.6 L455.9 632.7 L457.1 632.9 L458.4 633.1 L459.7 633.3 L460.9 633.5 L462.2 633.7 L463.5 634.0 L464.7 634.2 L466.0 634.3 L467.3 634.5 L468.5 634.6 L469.8 634.7 L471.1 634.7 L472.4 634.7 L473.6 634.7 L474.9 634.6 L476.2 634.6 L477.4 634.6 L478.7 634.6 L480.0 634.5 L481.2 634.6 L482.5 634.6 L483.8 634.6 L485.1 634.6 L486.3 634.6 L487.6 634.7 L488.9 634.9 L490.1 635.3 L491.4 636.8 L491.4 637.2 L490.1 638.7 L488.9 639.2 L487.6 639.5 L486.3 639.5 L485.1 639.6 L483.8 639.7 L482.5 639.7 L481.2 639.8 L480.0 639.9 L478.7 639.9 L477.4 640.0 L476.2 640.0 L474.9 640.1 L473.6 640.1 L472.4 640.2 L471.1 640.2 L469.8 640.2 L468.5 640.3 L467.3 640.2 L466.0 640.2 L464.7 640.2 L463.5 640.2 L462.2 640.1 L460.9 640.0 L459.7 640.0 L458.4 639.9 L457.1 639.9 L455.9 639.8 L454.6 639.7 L453.3 639.6 L452.0 639.5 L450.8 639.4 L449.5 639.3 L448.2 639.0 L447.0 638.3 L445.7 636.1Z" fill="url(#g23)" filter="url(#bh)" opacity="0.55"/>
<path d="M445.7 635.6 L447.0 634.4 L448.2 634.0 L449.5 633.8 L450.8 633.8 L452.0 633.8 L453.3 633.9 L454.6 633.9 L455.9 634.1 L457.1 634.2 L458.4 634.4 L459.7 634.6 L460.9 634.8 L462.2 635.0 L463.5 635.2 L464.7 635.4 L466.0 635.5 L467.3 635.6 L468.5 635.7 L469.8 635.8 L471.1 635.8 L472.4 635.8 L473.6 635.8 L474.9 635.7 L476.2 635.7 L477.4 635.7 L478.7 635.7 L480.0 635.6 L481.2 635.7 L482.5 635.7 L483.8 635.7 L485.1 635.7 L486.3 635.7 L487.6 635.7 L488.9 635.8 L490.1 636.1 L491.4 636.9 L491.4 637.1 L490.1 638.0 L488.9 638.3 L487.6 638.4 L486.3 638.5 L485.1 638.5 L483.8 638.6 L482.5 638.7 L481.2 638.7 L480.0 638.8 L478.7 638.8 L477.4 638.9 L476.2 638.9 L474.9 639.0 L473.6 639.0 L472.4 639.1 L471.1 639.1 L469.8 639.1 L468.5 639.1 L467.3 639.1 L466.0 639.1 L464.7 639.0 L463.5 638.9 L462.2 638.9 L460.9 638.8 L459.7 638.7 L458.4 638.6 L457.1 638.5 L455.9 638.5 L454.6 638.4 L453.3 638.3 L452.0 638.2 L450.8 638.1 L449.5 638.0 L448.2 637.8 L447.0 637.3 L445.7 636.0Z" fill="url(#g23)" filter="url(#bc)"/>
</g>
</g>
</svg>
</body></html>
